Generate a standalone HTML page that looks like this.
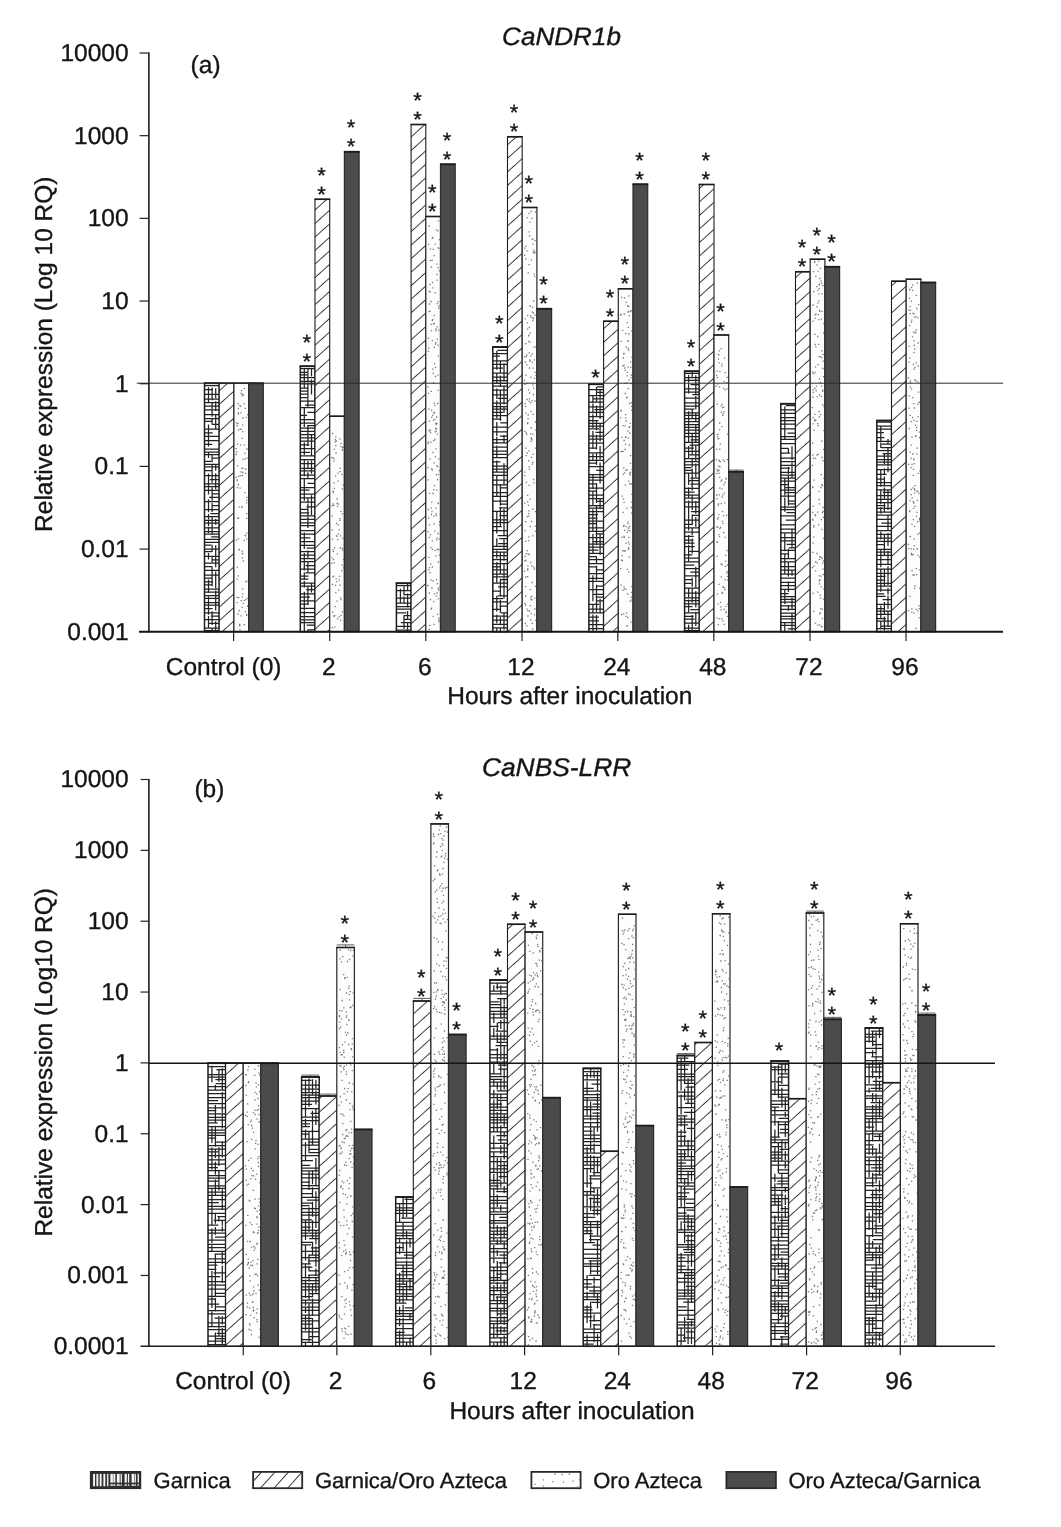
<!DOCTYPE html><html><head><meta charset="utf-8"><title>chart</title>
<style>html,body{margin:0;padding:0;background:#fff}svg{display:block}svg{will-change:transform}text{font-family:"Liberation Sans",sans-serif;fill:#151515;stroke:#151515;stroke-width:0.35px;text-rendering:geometricPrecision}</style></head><body>
<svg width="1061" height="1527" viewBox="0 0 1061 1527">
<defs><pattern id="hatch" width="10.05" height="10.05" patternUnits="userSpaceOnUse" patternTransform="rotate(-42)"><rect width="10.05" height="10.05" fill="#fff"/><path d="M0 5h10.05" stroke="#363636" stroke-width="0.95"/></pattern></defs>
<rect width="1061" height="1527" fill="#fff"/>
<rect x="204.50" y="383.25" width="14.70" height="248.45" fill="#fff"/>
<path d="M204.5 385.7h14.7M204.5 389.5h8.5M204.5 394.3h14.7M204.5 399.1h14.7M204.5 402.6h14.7M204.5 406.1h14.7M204.5 409.9h14.7M204.5 414.7h14.7M204.5 418.5h14.7M204.5 421.4h7.4M212.4 424.3h6.8M204.5 429.1h14.7M204.5 432.9h8.2M204.5 436.4h14.7M204.5 440.6h14.7M204.5 444.4h7.9M204.5 449.2h14.7M204.5 452.1h14.7M204.5 454.7h14.7M212.1 458.2h7.1M204.5 461.4h6.7M204.5 464.3h14.7M204.5 466.9h14.7M204.5 470.7h7.3M204.5 475.5h14.7M209.8 479.7h9.4M204.5 483.9h14.7M204.5 486.5h14.7M204.5 490.3h14.7M212.6 493.8h6.6M209.0 497.3h10.2M204.5 501.5h14.7M212.5 505.7h6.7M204.5 509.5h14.7M210.4 513.7h8.8M204.5 516.6h14.7M204.5 520.4h14.7M204.5 523.0h14.7M204.5 527.8h14.7M204.5 531.6h14.7M204.5 534.2h14.7M211.2 536.8h8.0M204.5 539.4h14.7M204.5 542.3h14.7M204.5 545.2h6.7M204.5 549.0h14.7M204.5 551.6h7.1M204.5 556.4h14.7M212.1 559.9h7.1M204.5 563.1h14.7M204.5 566.6h7.8M204.5 570.4h14.7M204.5 575.2h14.7M204.5 578.1h7.2M204.5 581.9h8.7M204.5 584.8h8.0M204.5 589.0h14.7M204.5 592.2h14.7M204.5 595.7h14.7M204.5 598.3h14.7M204.5 602.5h14.7M204.5 605.1h14.7M204.5 608.6h8.1M204.5 612.8h14.7M210.8 616.0h8.4M204.5 619.5h14.7M209.0 623.3h10.2M204.5 628.1h14.7M204.5 630.7h14.7M208.5 387.2V402.6M208.5 424.6V436.6M208.5 436.8V446.6M208.5 451.5V458.1M208.5 473.5V494.6M208.5 499.3V512.3M208.5 513.9V519.5M208.5 519.8V526.0M208.5 526.7V532.9M208.5 553.1V559.5M208.5 579.6V593.1M208.5 596.4V607.9M208.5 608.3V614.8M208.5 616.1V628.2M212.1 387.4V400.2M212.1 402.9V416.7M212.1 418.3V424.8M212.1 454.9V462.3M212.1 464.9V482.7M212.1 487.4V500.8M212.1 502.9V512.1M212.1 516.1V534.0M212.1 544.8V552.1M212.1 556.6V562.3M212.1 567.2V586.2M212.1 611.2V625.0M212.1 628.6V631.7M215.7 388.2V398.0M215.7 401.3V411.1M215.7 414.4V429.0M215.7 463.7V470.7M215.7 473.3V489.2M215.7 519.1V524.7M215.7 545.3V567.2M215.7 571.5V588.3M215.7 590.4V610.6M215.7 621.2V631.7" stroke="#222" stroke-width="1.25" fill="none"/>
<rect x="204.50" y="383.25" width="14.70" height="248.45" fill="none" stroke="#1c1c1c" stroke-width="1.5"/>
<path d="M203.90 383.25h15.90" stroke="#1c1c1c" stroke-width="1.8"/>
<rect x="219.20" y="383.25" width="14.70" height="248.45" fill="url(#hatch)" stroke="#1c1c1c" stroke-width="1.1"/>
<path d="M218.70 383.25h15.70" stroke="#1c1c1c" stroke-width="1.6"/>
<rect x="233.90" y="383.25" width="14.70" height="248.45" fill="#fdfdfd" stroke="#262626" stroke-width="1.2"/>
<path d="M245.0 469.0h1.3M239.2 625.9h1.3M236.6 597.3h1.3M244.7 611.6h1.3M236.8 444.2h1.3M240.0 406.3h1.3M239.0 624.5h1.3M246.3 449.0h1.3M243.8 388.6h1.3M241.3 393.9h1.3M239.4 488.2h1.3M238.6 610.5h1.3M238.0 597.7h1.3M240.4 393.4h1.3M241.6 553.3h1.3M246.1 500.2h1.3M247.1 605.8h1.3M241.5 551.1h1.3M240.5 600.7h1.3M242.2 553.9h1.3M244.3 492.6h1.3M241.9 588.8h1.3M242.0 425.1h1.3M241.4 607.4h1.3M238.4 549.5h1.3M246.6 598.3h1.3M242.5 459.5h1.3M237.1 518.4h1.3M238.6 506.9h1.3M240.2 412.8h1.3M235.5 477.3h1.3M241.7 395.5h1.3M246.1 518.3h1.3M247.0 414.7h1.3M236.5 425.7h1.3M246.3 497.4h1.3M246.2 581.2h1.3M240.1 445.2h1.3M241.2 468.1h1.3M245.9 614.4h1.3M246.2 513.6h1.3M236.7 487.7h1.3M235.7 448.6h1.3M243.6 624.6h1.3M235.8 422.9h1.3M235.5 454.5h1.3M243.9 444.8h1.3M241.2 507.4h1.3M242.2 593.9h1.3M242.7 560.9h1.3M243.6 600.4h1.3M235.7 540.1h1.3M245.1 535.9h1.3M241.7 596.8h1.3M241.6 438.3h1.3M237.9 518.0h1.3M242.3 418.2h1.3M246.1 538.9h1.3M239.5 429.2h1.3M242.5 603.4h1.3M237.7 575.8h1.3M237.7 408.5h1.3M245.8 417.3h1.3M236.4 480.0h1.3M240.5 615.8h1.3M241.8 557.8h1.3M237.7 538.9h1.3M244.7 408.3h1.3M242.1 472.5h1.3M245.0 473.4h1.3M243.6 540.5h1.3M239.4 629.9h1.3M245.1 581.8h1.3M241.0 390.7h1.3M244.3 535.3h1.3M246.0 502.9h1.3M237.6 413.0h1.3M237.4 423.5h1.3M238.7 549.9h1.3M242.2 417.8h1.3M243.4 403.8h1.3M236.5 480.7h1.3M240.4 471.8h1.3M237.9 476.3h1.3M242.8 394.8h1.3M237.7 484.9h1.3M239.6 475.6h1.3M246.2 533.2h1.3M236.5 579.2h1.3M239.2 405.6h1.3M245.3 599.7h1.3M246.0 615.4h1.3M242.1 431.6h1.3M242.2 468.4h1.3M244.3 453.4h1.3M236.8 567.1h1.3M237.3 614.0h1.3M237.0 465.7h1.3M241.7 475.5h1.3M240.5 429.3h1.3M237.8 430.1h1.3M244.7 458.8h1.3M236.6 602.7h1.3M247.0 606.3h1.3M236.0 451.8h1.3M246.6 458.1h1.3M237.9 484.4h1.3M237.5 403.6h1.3M241.4 506.9h1.3M237.9 414.1h1.3" stroke="#7a7a7a" stroke-width="1.3" fill="none"/>
<path d="M233.40 383.25h15.70" stroke="#1c1c1c" stroke-width="1.5"/>
<rect x="248.60" y="383.25" width="14.70" height="248.45" fill="#4b4b4b" stroke="#2b2b2b" stroke-width="1.2"/>
<path d="M248.10 383.25h15.70" stroke="#1c1c1c" stroke-width="1.8"/>
<rect x="300.30" y="366.25" width="14.70" height="265.45" fill="#fff"/>
<path d="M300.3 368.5h14.7M300.3 372.3h8.1M300.3 374.9h6.8M300.3 377.5h14.7M300.3 381.3h14.7M300.3 383.9h14.7M300.3 388.1h7.8M300.3 391.0h7.4M300.3 394.2h7.5M300.3 397.7h6.8M300.3 401.2h14.7M305.0 405.0h10.0M300.3 407.6h14.7M307.5 412.4h7.5M300.3 415.3h6.8M300.3 419.5h14.7M300.3 423.0h14.7M307.1 425.6h7.9M300.3 428.2h14.7M300.3 431.4h14.7M300.3 434.6h14.7M300.3 437.8h14.7M300.3 441.0h14.7M300.3 444.8h9.1M300.3 448.6h14.7M300.3 452.4h9.6M300.3 455.9h14.7M300.3 459.7h14.7M300.3 463.5h14.7M300.3 468.3h14.7M300.3 470.9h14.7M300.3 475.1h14.7M300.3 478.6h14.7M307.4 483.4h7.6M300.3 487.6h14.7M300.3 490.2h9.2M300.3 494.0h14.7M300.3 497.8h14.7M300.3 502.0h14.7M306.5 506.8h8.5M300.3 509.4h7.3M300.3 512.9h8.9M300.3 515.8h14.7M300.3 519.3h14.7M300.3 522.8h14.7M300.3 525.7h14.7M300.3 530.5h14.7M300.3 534.0h14.7M300.3 537.8h10.0M300.3 541.6h14.7M300.3 545.4h14.7M306.6 548.0h8.4M300.3 551.5h14.7M300.3 555.0h14.7M300.3 558.5h14.7M300.3 561.7h14.7M305.4 565.5h9.6M300.3 569.0h14.7M305.3 572.8h9.7M300.3 576.0h8.2M300.3 579.2h8.0M300.3 583.0h14.7M300.3 586.2h14.7M306.2 589.7h8.8M300.3 593.9h14.7M300.3 597.1h9.7M300.3 600.9h14.7M300.3 604.1h8.7M300.3 608.3h14.7M300.3 612.5h14.7M300.3 616.7h14.7M300.3 619.9h14.7M300.3 622.5h14.7M306.7 625.1h8.3M308.4 629.9h6.6M304.3 368.1V388.6M304.3 407.1V427.1M304.3 442.6V455.1M304.3 459.6V476.3M304.3 478.9V500.8M304.3 532.5V549.0M304.3 553.0V570.5M304.3 572.5V580.1M304.3 581.0V587.5M304.3 591.8V610.6M304.3 610.9V618.6M304.3 618.7V631.7M307.9 368.1V382.4M307.9 383.7V390.5M307.9 390.6V406.8M307.9 425.5V445.9M307.9 460.8V468.1M307.9 472.2V478.4M307.9 498.2V503.3M307.9 503.7V516.6M307.9 516.8V527.9M307.9 550.4V558.2M307.9 561.6V572.0M307.9 586.7V604.1M307.9 629.3V631.7M311.5 368.1V376.5M311.5 379.4V394.6M311.5 435.3V456.3M311.5 460.6V473.8M311.5 495.3V515.0M311.5 583.2V592.4M311.5 630.7V631.7" stroke="#222" stroke-width="1.25" fill="none"/>
<rect x="300.30" y="366.25" width="14.70" height="265.45" fill="none" stroke="#1c1c1c" stroke-width="1.5"/>
<path d="M299.70 366.25h15.90" stroke="#1c1c1c" stroke-width="1.8"/>
<rect x="315.00" y="199.25" width="14.70" height="432.45" fill="url(#hatch)" stroke="#1c1c1c" stroke-width="1.1"/>
<path d="M314.50 199.25h15.70" stroke="#1c1c1c" stroke-width="1.6"/>
<rect x="329.70" y="416.25" width="14.70" height="215.45" fill="#fdfdfd" stroke="#262626" stroke-width="1.2"/>
<path d="M331.8 539.2h1.3M333.3 461.2h1.3M341.9 449.4h1.3M332.7 492.5h1.3M338.4 529.9h1.3M341.6 565.1h1.3M332.2 576.8h1.3M337.6 525.2h1.3M331.4 457.6h1.3M333.5 562.7h1.3M340.3 511.3h1.3M331.6 505.5h1.3M337.0 618.9h1.3M342.5 484.9h1.3M335.9 536.0h1.3M342.9 559.5h1.3M332.0 433.5h1.3M332.8 559.6h1.3M339.1 576.4h1.3M340.4 443.6h1.3M336.4 601.2h1.3M339.5 518.7h1.3M334.6 441.8h1.3M340.2 599.6h1.3M341.1 570.6h1.3M341.7 450.1h1.3M338.5 616.9h1.3M340.0 620.4h1.3M340.0 535.8h1.3M332.2 457.8h1.3M335.6 441.0h1.3M334.8 475.9h1.3M336.7 553.8h1.3M336.4 499.0h1.3M332.4 549.8h1.3M332.7 551.7h1.3M333.3 458.8h1.3M331.6 516.1h1.3M339.4 439.1h1.3M331.6 627.5h1.3M336.3 581.6h1.3M335.2 592.7h1.3M342.0 447.3h1.3M333.6 449.2h1.3M339.3 520.3h1.3M342.0 550.1h1.3M339.7 548.0h1.3M334.9 585.3h1.3M334.1 627.1h1.3M337.4 473.1h1.3M333.4 482.9h1.3M336.4 536.1h1.3M333.6 488.4h1.3M334.6 439.6h1.3M339.5 471.7h1.3M337.5 481.2h1.3M333.9 547.8h1.3M337.2 539.7h1.3M333.5 616.1h1.3M342.9 567.9h1.3M342.2 538.3h1.3M331.5 557.8h1.3M340.3 446.7h1.3M336.8 506.4h1.3M335.1 437.2h1.3M341.4 474.3h1.3M341.5 513.8h1.3M339.7 468.4h1.3M337.9 533.8h1.3M331.9 612.2h1.3M333.2 576.2h1.3M341.7 488.9h1.3M332.9 616.2h1.3M331.2 563.3h1.3M335.5 578.9h1.3M335.4 453.0h1.3M338.2 590.1h1.3M336.5 503.5h1.3M340.4 615.3h1.3M342.9 447.1h1.3M340.0 597.8h1.3M341.8 548.5h1.3M338.7 579.9h1.3M333.1 505.3h1.3M331.6 529.9h1.3M332.6 503.9h1.3M335.1 445.7h1.3M334.1 615.7h1.3M331.8 584.3h1.3M339.6 585.1h1.3M335.9 523.5h1.3M332.4 491.1h1.3M341.7 611.7h1.3M337.8 504.2h1.3M334.5 606.7h1.3" stroke="#7a7a7a" stroke-width="1.3" fill="none"/>
<path d="M329.20 416.25h15.70" stroke="#1c1c1c" stroke-width="1.5"/>
<rect x="344.40" y="151.75" width="14.70" height="479.95" fill="#4b4b4b" stroke="#2b2b2b" stroke-width="1.2"/>
<path d="M343.90 151.75h15.70" stroke="#1c1c1c" stroke-width="1.8"/>
<rect x="396.40" y="583.25" width="14.70" height="48.45" fill="#fff"/>
<path d="M396.4 585.7h14.7M396.4 590.5h14.7M403.4 594.7h7.7M396.4 598.2h14.7M396.4 603.0h14.7M396.4 606.5h14.7M396.4 609.1h14.7M396.4 612.9h9.9M403.6 615.5h7.5M403.6 619.3h7.5M400.9 622.5h10.2M396.4 626.3h14.7M396.4 630.1h14.7M400.4 588.7V603.0M400.4 631.3V631.7M404.0 586.6V594.4M404.0 596.5V603.6M404.0 616.3V629.0M407.6 583.4V591.3M407.6 593.6V607.6M407.6 611.0V620.0M407.6 622.2V631.7" stroke="#222" stroke-width="1.25" fill="none"/>
<rect x="396.40" y="583.25" width="14.70" height="48.45" fill="none" stroke="#1c1c1c" stroke-width="1.5"/>
<path d="M395.80 583.25h15.90" stroke="#1c1c1c" stroke-width="1.8"/>
<rect x="411.10" y="124.50" width="14.70" height="507.20" fill="url(#hatch)" stroke="#1c1c1c" stroke-width="1.1"/>
<path d="M410.60 124.50h15.70" stroke="#1c1c1c" stroke-width="1.6"/>
<rect x="425.80" y="216.50" width="14.70" height="415.20" fill="#fdfdfd" stroke="#262626" stroke-width="1.2"/>
<path d="M436.4 538.1h1.3M437.6 301.6h1.3M437.4 503.5h1.3M428.0 348.2h1.3M437.4 588.7h1.3M427.5 479.9h1.3M435.5 448.8h1.3M433.5 315.4h1.3M438.4 620.4h1.3M434.9 344.2h1.3M436.9 614.3h1.3M430.5 391.3h1.3M437.6 356.1h1.3M438.5 539.1h1.3M432.2 287.8h1.3M437.4 267.7h1.3M435.4 328.9h1.3M435.7 424.7h1.3M430.8 330.7h1.3M436.7 434.2h1.3M428.7 430.7h1.3M438.7 587.1h1.3M429.4 311.1h1.3M428.9 493.3h1.3M432.7 249.4h1.3M438.0 248.4h1.3M437.9 220.9h1.3M434.2 439.5h1.3M432.3 452.4h1.3M429.2 625.4h1.3M429.5 291.9h1.3M435.9 229.9h1.3M436.5 280.1h1.3M437.8 474.4h1.3M438.0 459.1h1.3M427.3 585.5h1.3M428.0 244.4h1.3M436.4 593.0h1.3M431.1 417.3h1.3M427.7 338.1h1.3M437.0 479.6h1.3M438.8 524.8h1.3M433.5 462.8h1.3M436.3 264.2h1.3M432.4 493.5h1.3M433.7 323.6h1.3M435.7 515.4h1.3M430.3 442.3h1.3M437.3 466.7h1.3M430.4 301.5h1.3M438.7 239.6h1.3M432.5 581.0h1.3M431.1 468.7h1.3M434.4 550.3h1.3M433.2 516.1h1.3M437.3 230.8h1.3M428.6 291.5h1.3M434.8 456.9h1.3M435.7 474.9h1.3M427.9 393.3h1.3M435.4 555.9h1.3M435.9 539.8h1.3M436.3 423.4h1.3M434.9 428.5h1.3M431.7 320.3h1.3M433.1 489.6h1.3M434.3 405.4h1.3M431.0 410.4h1.3M435.5 508.1h1.3M438.5 270.9h1.3M436.1 465.6h1.3M428.9 524.9h1.3M433.4 624.3h1.3M427.3 386.9h1.3M433.4 255.7h1.3M433.8 412.5h1.3M438.2 618.5h1.3M435.3 513.6h1.3M438.7 470.5h1.3M430.8 267.0h1.3M437.3 390.4h1.3M428.3 311.7h1.3M430.9 608.1h1.3M438.1 308.0h1.3M429.2 459.2h1.3M438.9 522.0h1.3M433.9 593.9h1.3M437.6 598.8h1.3M429.4 572.5h1.3M438.2 305.9h1.3M431.7 238.3h1.3M432.2 319.6h1.3M436.6 549.5h1.3M432.9 383.0h1.3M434.2 531.1h1.3M432.8 420.1h1.3M434.6 292.9h1.3M433.0 440.7h1.3M432.2 237.4h1.3M430.5 609.1h1.3M434.6 431.9h1.3M436.0 429.1h1.3M433.9 485.7h1.3M429.8 260.6h1.3M428.0 518.1h1.3M436.4 274.5h1.3M430.1 564.0h1.3M428.7 629.4h1.3M437.1 403.5h1.3M437.3 375.2h1.3M430.3 580.2h1.3M435.1 342.6h1.3M434.4 419.3h1.3M429.5 429.8h1.3M428.8 304.0h1.3M432.1 415.3h1.3M435.4 431.1h1.3M433.7 347.4h1.3M432.6 373.4h1.3M437.6 562.0h1.3M433.6 403.2h1.3M428.9 431.0h1.3M431.5 260.3h1.3M431.6 470.0h1.3M428.9 567.6h1.3M436.0 417.0h1.3M427.4 531.9h1.3M436.0 490.2h1.3M428.1 569.6h1.3M433.8 363.7h1.3M428.7 537.3h1.3M431.7 540.9h1.3M430.3 547.6h1.3M428.7 421.2h1.3M433.0 601.6h1.3M430.6 507.9h1.3M429.9 599.5h1.3M429.7 534.7h1.3M431.4 511.6h1.3M433.4 524.2h1.3M437.9 549.5h1.3M432.9 323.9h1.3M437.3 345.2h1.3M438.0 590.0h1.3M428.7 593.0h1.3M438.0 330.1h1.3M431.7 567.0h1.3M430.8 514.5h1.3M437.7 247.8h1.3M427.7 351.4h1.3M431.7 340.6h1.3M436.8 583.6h1.3M434.8 376.5h1.3M431.3 588.0h1.3M427.7 509.5h1.3M429.8 249.1h1.3M427.9 441.8h1.3M434.5 244.2h1.3M428.1 409.2h1.3M432.6 616.3h1.3M431.8 549.3h1.3M435.3 330.5h1.3M433.1 413.0h1.3M427.5 467.6h1.3M430.5 324.4h1.3M429.9 432.6h1.3M438.1 621.9h1.3M427.3 443.5h1.3M437.2 533.5h1.3M428.2 557.4h1.3M437.6 502.9h1.3M436.6 326.8h1.3M428.5 226.0h1.3M436.7 303.7h1.3M431.9 282.5h1.3M429.5 284.4h1.3M431.2 502.1h1.3M436.7 339.1h1.3M432.2 369.2h1.3M435.1 423.4h1.3M434.9 367.3h1.3M435.6 596.2h1.3M435.9 579.7h1.3M438.9 555.1h1.3" stroke="#7a7a7a" stroke-width="1.3" fill="none"/>
<path d="M425.30 216.50h15.70" stroke="#1c1c1c" stroke-width="1.5"/>
<rect x="440.50" y="164.25" width="14.70" height="467.45" fill="#4b4b4b" stroke="#2b2b2b" stroke-width="1.2"/>
<path d="M440.00 164.25h15.70" stroke="#1c1c1c" stroke-width="1.8"/>
<rect x="492.80" y="347.00" width="14.70" height="284.70" fill="#fff"/>
<path d="M497.3 350.3h10.2M492.8 353.5h14.7M492.8 356.1h7.1M492.8 360.9h14.7M492.8 364.4h14.7M492.8 368.2h10.3M492.8 373.0h14.7M492.8 377.2h14.7M492.8 380.7h14.7M492.8 383.3h14.7M492.8 386.2h14.7M492.8 390.0h14.7M492.8 394.8h14.7M497.8 398.3h9.7M492.8 403.1h14.7M492.8 406.6h14.7M492.8 409.2h14.7M492.8 412.4h10.2M492.8 415.6h14.7M492.8 419.1h8.6M500.3 422.9h7.2M492.8 427.1h14.7M492.8 431.9h14.7M500.0 436.1h7.5M492.8 439.6h14.7M492.8 442.8h14.7M492.8 447.0h14.7M492.8 451.2h14.7M492.8 454.4h14.7M492.8 457.6h14.7M492.8 461.8h7.6M492.8 466.0h14.7M492.8 469.2h14.7M492.8 472.1h14.7M492.8 475.3h14.7M492.8 480.1h14.7M492.8 484.9h14.7M499.7 487.8h7.8M492.8 492.6h14.7M492.8 496.4h14.7M492.8 501.2h14.7M500.1 504.1h7.4M499.1 507.9h8.4M492.8 511.4h14.7M499.4 515.6h8.1M492.8 519.8h14.7M492.8 522.7h14.7M492.8 526.5h8.9M492.8 530.7h14.7M497.7 535.5h9.8M499.3 538.7h8.2M498.2 543.5h9.3M492.8 546.4h14.7M492.8 549.3h14.7M492.8 552.2h14.7M492.8 555.7h14.7M492.8 559.5h14.7M492.8 563.7h14.7M492.8 566.9h7.8M492.8 569.8h14.7M492.8 574.0h14.7M492.8 576.9h14.7M500.8 579.5h6.7M492.8 583.0h14.7M498.0 586.8h9.5M492.8 591.0h8.1M497.8 595.8h9.7M492.8 598.7h10.2M492.8 601.9h14.7M499.4 606.1h8.1M492.8 609.3h7.5M500.8 612.8h6.7M492.8 616.0h14.7M492.8 620.2h14.7M492.8 624.4h14.7M492.8 627.9h14.7M496.8 350.9V369.7M496.8 372.9V383.9M496.8 388.5V398.9M496.8 400.6V418.2M496.8 421.9V436.2M496.8 437.1V443.9M496.8 445.6V458.0M496.8 460.5V472.3M496.8 475.0V496.2M496.8 511.6V533.4M496.8 538.2V546.9M496.8 550.5V558.5M496.8 561.9V583.0M496.8 595.7V611.5M496.8 614.7V623.3M496.8 627.8V631.7M500.4 360.8V373.5M500.4 375.6V387.1M500.4 390.1V404.9M500.4 405.0V420.7M500.4 483.9V505.8M500.4 506.9V526.2M500.4 552.6V574.5M500.4 578.8V595.9M500.4 599.9V612.7M500.4 617.0V625.3M500.4 628.5V631.7M504.0 363.3V381.4M504.0 386.0V404.5M504.0 406.3V413.0M504.0 435.1V443.1M504.0 463.2V485.0M504.0 509.1V525.4M504.0 525.5V536.3M504.0 539.4V549.2M504.0 552.6V560.7M504.0 564.2V577.1M504.0 577.7V598.7M504.0 612.3V629.8M504.0 631.3V631.7" stroke="#222" stroke-width="1.25" fill="none"/>
<rect x="492.80" y="347.00" width="14.70" height="284.70" fill="none" stroke="#1c1c1c" stroke-width="1.5"/>
<path d="M492.20 347.00h15.90" stroke="#1c1c1c" stroke-width="1.8"/>
<rect x="507.50" y="136.75" width="14.70" height="494.95" fill="url(#hatch)" stroke="#1c1c1c" stroke-width="1.1"/>
<path d="M507.00 136.75h15.70" stroke="#1c1c1c" stroke-width="1.6"/>
<rect x="522.20" y="207.50" width="14.70" height="424.20" fill="#fdfdfd" stroke="#262626" stroke-width="1.2"/>
<path d="M528.7 554.4h1.3M528.5 401.4h1.3M529.6 605.6h1.3M527.8 505.4h1.3M526.5 453.0h1.3M527.0 576.6h1.3M527.1 568.9h1.3M531.6 400.6h1.3M534.6 372.3h1.3M532.4 462.3h1.3M528.9 236.0h1.3M528.6 327.5h1.3M528.9 611.0h1.3M527.1 501.7h1.3M531.6 312.1h1.3M528.5 264.7h1.3M534.2 315.0h1.3M528.6 352.9h1.3M533.3 567.1h1.3M530.6 438.9h1.3M524.9 586.6h1.3M524.7 362.1h1.3M528.1 513.6h1.3M531.5 353.8h1.3M534.2 609.0h1.3M524.0 475.6h1.3M529.2 361.4h1.3M529.1 342.1h1.3M531.5 464.1h1.3M535.1 620.3h1.3M535.3 375.4h1.3M533.4 482.8h1.3M531.9 629.2h1.3M524.5 403.7h1.3M528.4 485.3h1.3M526.3 625.9h1.3M526.2 364.8h1.3M525.4 375.2h1.3M532.4 244.2h1.3M525.7 482.3h1.3M531.0 521.5h1.3M526.7 550.7h1.3M532.3 535.9h1.3M525.1 406.4h1.3M523.9 571.1h1.3M534.8 586.3h1.3M524.0 356.9h1.3M530.0 433.8h1.3M525.0 541.4h1.3M527.2 422.7h1.3M525.2 448.2h1.3M525.2 246.2h1.3M529.7 332.8h1.3M532.8 312.9h1.3M528.5 231.9h1.3M526.2 399.3h1.3M530.2 402.5h1.3M533.7 253.0h1.3M533.6 274.2h1.3M535.1 430.1h1.3M528.5 466.9h1.3M533.8 614.9h1.3M528.5 213.5h1.3M525.5 553.7h1.3M532.3 509.2h1.3M525.5 432.7h1.3M524.0 255.4h1.3M527.2 616.0h1.3M531.2 566.0h1.3M524.2 384.3h1.3M524.6 318.9h1.3M525.0 596.0h1.3M527.5 415.0h1.3M531.4 582.5h1.3M534.8 448.2h1.3M529.6 589.7h1.3M528.3 335.1h1.3M532.4 317.8h1.3M528.0 389.8h1.3M529.3 360.0h1.3M528.7 398.9h1.3M524.3 561.0h1.3M524.4 431.3h1.3M530.1 377.4h1.3M526.3 250.8h1.3M528.1 341.4h1.3M529.4 306.0h1.3M532.5 414.3h1.3M523.8 380.3h1.3M535.0 212.0h1.3M530.6 613.7h1.3M528.0 460.9h1.3M528.0 335.9h1.3M530.8 457.3h1.3M527.4 418.6h1.3M529.7 526.5h1.3M524.3 248.1h1.3M526.6 322.8h1.3M533.0 388.2h1.3M533.8 378.4h1.3M527.0 495.4h1.3M524.7 623.5h1.3M533.4 347.2h1.3M527.4 554.1h1.3M532.9 479.5h1.3M524.4 530.6h1.3M524.3 472.1h1.3M530.2 599.6h1.3M531.2 218.4h1.3M534.6 526.1h1.3M530.5 211.3h1.3M532.3 385.2h1.3M531.7 623.3h1.3M534.4 240.6h1.3M532.8 394.5h1.3M532.5 368.1h1.3M528.9 393.0h1.3M525.1 343.7h1.3M532.3 239.1h1.3M525.1 560.3h1.3M531.5 439.9h1.3M525.0 258.9h1.3M527.3 610.8h1.3M530.3 597.5h1.3M526.2 383.7h1.3M530.0 562.5h1.3M525.1 577.0h1.3M529.2 222.2h1.3M528.8 368.0h1.3M531.6 599.9h1.3M529.5 499.4h1.3M528.2 536.9h1.3M524.9 521.7h1.3M525.6 455.7h1.3M526.1 354.8h1.3M525.6 356.3h1.3M530.6 428.0h1.3M528.2 450.9h1.3M533.6 359.9h1.3M530.5 411.4h1.3M535.2 347.2h1.3M531.9 307.4h1.3M526.8 516.6h1.3M530.4 317.3h1.3M524.5 556.4h1.3M528.1 510.8h1.3M528.8 469.1h1.3M530.2 620.0h1.3M534.3 401.0h1.3M529.4 306.4h1.3M532.5 252.1h1.3M527.3 565.9h1.3M524.1 503.2h1.3M530.3 441.3h1.3M527.6 272.8h1.3M534.8 531.1h1.3M533.1 250.1h1.3M532.9 301.0h1.3M526.0 434.3h1.3M530.8 259.9h1.3M532.6 454.3h1.3M534.2 598.2h1.3M531.8 362.3h1.3M534.8 511.7h1.3M527.1 570.2h1.3M532.2 320.5h1.3M526.6 217.6h1.3M530.0 315.8h1.3M527.1 315.5h1.3M525.2 413.2h1.3M526.9 329.1h1.3M526.9 423.5h1.3M533.9 276.4h1.3M533.8 569.0h1.3M530.8 438.0h1.3M532.3 434.2h1.3M531.4 596.2h1.3M532.8 318.5h1.3M524.3 603.5h1.3M527.9 540.6h1.3M526.4 399.7h1.3M528.0 516.2h1.3M534.7 422.0h1.3M530.3 355.9h1.3M526.4 609.1h1.3M525.0 605.1h1.3M531.4 239.2h1.3M534.3 252.0h1.3" stroke="#7a7a7a" stroke-width="1.3" fill="none"/>
<path d="M521.70 207.50h15.70" stroke="#1c1c1c" stroke-width="1.5"/>
<rect x="536.90" y="308.75" width="14.70" height="322.95" fill="#4b4b4b" stroke="#2b2b2b" stroke-width="1.2"/>
<path d="M536.40 308.75h15.70" stroke="#1c1c1c" stroke-width="1.8"/>
<rect x="588.90" y="384.25" width="14.70" height="247.45" fill="#fff"/>
<path d="M596.7 386.9h6.9M588.9 389.5h14.7M596.9 392.4h6.7M588.9 395.6h14.7M593.5 398.8h10.1M588.9 402.0h14.7M588.9 406.8h14.7M594.5 409.7h9.1M588.9 412.3h14.7M588.9 416.5h14.7M588.9 420.7h9.6M588.9 423.3h14.7M588.9 426.2h14.7M588.9 428.8h10.2M595.5 432.3h8.1M588.9 436.1h14.7M588.9 439.0h14.7M588.9 443.2h14.7M588.9 448.0h7.6M588.9 452.8h14.7M588.9 456.6h14.7M588.9 460.4h14.7M588.9 463.0h8.3M588.9 466.5h14.7M596.3 470.3h7.3M588.9 474.5h14.7M588.9 477.4h14.7M588.9 480.0h14.7M588.9 483.8h7.8M588.9 488.0h14.7M588.9 491.2h7.6M588.9 495.0h14.7M588.9 498.5h14.7M596.3 501.4h7.3M588.9 505.6h14.7M588.9 508.2h14.7M588.9 511.7h14.7M588.9 514.6h9.1M588.9 518.1h8.6M588.9 521.0h14.7M588.9 523.6h7.5M588.9 527.8h14.7M588.9 531.3h14.7M595.6 533.9h8.0M588.9 537.7h14.7M593.3 541.5h10.3M588.9 544.1h14.7M588.9 547.0h14.7M588.9 550.2h9.5M588.9 553.4h14.7M588.9 556.6h8.0M588.9 559.5h14.7M588.9 563.7h14.7M588.9 566.9h8.4M596.9 569.8h6.7M588.9 573.6h14.7M588.9 578.4h14.7M588.9 581.3h14.7M596.5 586.1h7.1M588.9 589.6h14.7M593.5 594.4h10.1M595.7 597.0h7.9M596.5 600.8h7.1M588.9 604.3h10.1M588.9 609.1h14.7M588.9 612.9h14.7M588.9 617.1h9.9M588.9 620.9h10.1M588.9 624.7h14.7M588.9 628.5h14.7M592.9 395.0V403.1M592.9 403.4V413.6M592.9 414.2V428.1M592.9 431.0V448.9M592.9 453.7V460.1M592.9 475.3V488.9M592.9 490.5V505.2M592.9 509.2V530.7M592.9 533.7V553.1M592.9 575.2V593.2M592.9 593.5V601.2M592.9 604.9V613.5M592.9 614.6V631.7M596.5 387.0V395.1M596.5 396.7V402.4M596.5 405.5V416.7M596.5 419.9V430.3M596.5 434.7V449.6M596.5 452.3V465.1M596.5 482.9V502.9M596.5 505.4V527.2M596.5 528.0V545.3M596.5 557.3V564.0M596.5 565.7V580.2M596.5 584.8V598.6M596.5 598.6V612.0M596.5 614.9V630.6M596.5 631.1V631.7M600.1 390.1V399.8M600.1 400.3V418.9M600.1 423.0V441.6M600.1 446.1V459.6M600.1 462.4V483.5M600.1 498.4V509.2M600.1 534.3V554.9M600.1 598.8V612.5" stroke="#222" stroke-width="1.25" fill="none"/>
<rect x="588.90" y="384.25" width="14.70" height="247.45" fill="none" stroke="#1c1c1c" stroke-width="1.5"/>
<path d="M588.30 384.25h15.90" stroke="#1c1c1c" stroke-width="1.8"/>
<rect x="603.60" y="321.25" width="14.70" height="310.45" fill="url(#hatch)" stroke="#1c1c1c" stroke-width="1.1"/>
<path d="M603.10 321.25h15.70" stroke="#1c1c1c" stroke-width="1.6"/>
<rect x="618.30" y="288.75" width="14.70" height="342.95" fill="#fdfdfd" stroke="#262626" stroke-width="1.2"/>
<path d="M627.3 312.2h1.3M627.6 327.4h1.3M631.3 586.5h1.3M623.4 353.5h1.3M627.9 548.0h1.3M631.3 502.0h1.3M621.3 537.3h1.3M620.5 585.2h1.3M628.8 557.2h1.3M630.0 483.7h1.3M630.8 507.5h1.3M625.6 421.0h1.3M623.9 298.0h1.3M621.7 560.7h1.3M622.5 512.4h1.3M628.9 526.3h1.3M625.8 397.7h1.3M623.0 353.9h1.3M627.4 523.6h1.3M630.8 402.6h1.3M630.6 600.1h1.3M623.2 613.9h1.3M627.0 617.5h1.3M628.9 403.5h1.3M623.1 467.9h1.3M625.5 302.3h1.3M629.9 472.3h1.3M625.3 543.4h1.3M622.7 358.0h1.3M626.6 372.3h1.3M623.6 314.0h1.3M620.4 411.0h1.3M626.0 612.8h1.3M627.3 431.1h1.3M624.6 370.3h1.3M625.3 616.3h1.3M621.2 437.4h1.3M627.8 549.4h1.3M626.3 508.2h1.3M630.8 597.1h1.3M622.7 474.2h1.3M631.5 469.6h1.3M622.0 550.7h1.3M620.5 341.4h1.3M626.3 382.9h1.3M628.2 537.3h1.3M623.5 551.0h1.3M627.4 530.2h1.3M625.1 437.3h1.3M621.0 451.7h1.3M631.0 592.3h1.3M620.5 314.4h1.3M623.0 526.3h1.3M624.9 333.7h1.3M624.8 485.1h1.3M628.5 427.3h1.3M627.4 521.9h1.3M627.0 306.0h1.3M628.1 334.0h1.3M620.4 451.3h1.3M620.0 315.0h1.3M624.4 449.5h1.3M621.0 614.5h1.3M629.8 455.7h1.3M626.7 397.5h1.3M631.3 331.0h1.3M623.4 365.4h1.3M629.9 463.2h1.3M624.6 425.8h1.3M630.2 377.8h1.3M629.1 531.0h1.3M625.0 414.6h1.3M624.9 444.3h1.3M623.5 502.3h1.3M624.6 393.5h1.3M628.8 445.0h1.3M625.3 589.3h1.3M625.1 418.1h1.3M630.3 622.2h1.3M629.0 426.7h1.3M627.7 542.1h1.3M623.3 536.4h1.3M630.9 513.2h1.3M627.6 438.2h1.3M627.4 367.1h1.3M628.8 473.5h1.3M631.3 406.4h1.3M628.1 295.9h1.3M624.7 550.8h1.3M622.8 498.8h1.3M622.4 425.7h1.3M631.4 357.1h1.3M630.5 310.6h1.3M626.6 569.4h1.3M629.6 423.3h1.3M626.7 532.3h1.3M628.7 544.1h1.3M626.6 375.8h1.3M628.1 481.1h1.3M626.2 625.8h1.3M621.4 555.6h1.3M623.6 537.3h1.3M630.9 383.5h1.3M626.4 469.8h1.3M625.6 347.0h1.3M627.1 594.0h1.3M627.6 388.5h1.3M629.2 433.0h1.3M621.5 496.2h1.3M625.2 470.4h1.3M631.4 483.8h1.3M631.0 410.1h1.3M628.7 315.9h1.3M623.3 525.5h1.3M627.9 571.9h1.3M624.2 383.3h1.3M624.0 472.9h1.3M620.1 417.6h1.3M627.5 340.8h1.3M623.4 586.9h1.3M630.7 375.1h1.3M621.9 330.3h1.3M620.8 560.2h1.3M628.4 380.1h1.3M625.5 526.6h1.3M620.1 568.6h1.3M629.9 362.1h1.3M628.0 528.0h1.3M623.7 588.9h1.3M622.4 451.4h1.3M623.5 440.5h1.3M629.3 484.0h1.3M626.9 625.8h1.3M622.4 366.0h1.3M627.1 341.3h1.3M631.1 406.3h1.3M624.9 436.8h1.3M629.5 601.4h1.3M627.7 348.5h1.3M624.0 530.4h1.3M622.3 590.3h1.3M630.0 367.2h1.3M624.1 368.0h1.3M628.2 306.3h1.3M627.9 311.5h1.3M629.6 474.9h1.3M626.6 322.6h1.3M620.3 410.3h1.3M631.3 494.3h1.3M629.9 311.5h1.3M621.0 297.4h1.3M628.0 350.2h1.3" stroke="#7a7a7a" stroke-width="1.3" fill="none"/>
<path d="M617.80 288.75h15.70" stroke="#1c1c1c" stroke-width="1.5"/>
<rect x="633.00" y="184.25" width="14.70" height="447.45" fill="#4b4b4b" stroke="#2b2b2b" stroke-width="1.2"/>
<path d="M632.50 184.25h15.70" stroke="#1c1c1c" stroke-width="1.8"/>
<rect x="684.60" y="371.25" width="14.70" height="260.45" fill="#fff"/>
<path d="M684.6 373.3h14.7M684.6 377.5h14.7M684.6 380.4h14.7M690.6 384.6h8.7M684.6 388.8h14.7M684.6 392.0h14.7M692.4 394.6h6.9M684.6 398.1h14.7M684.6 402.9h14.7M684.6 406.1h14.7M684.6 409.0h9.8M684.6 412.8h14.7M684.6 415.4h14.7M684.6 418.6h14.7M684.6 421.5h14.7M684.6 424.7h14.7M684.6 427.3h14.7M684.6 430.2h14.7M684.6 433.4h14.7M684.6 436.6h14.7M690.7 439.8h8.6M684.6 442.4h14.7M689.8 445.0h9.5M684.6 448.2h9.4M684.6 451.4h14.7M689.4 454.9h9.9M684.6 458.7h14.7M684.6 461.6h14.7M684.6 464.8h14.7M684.6 467.7h6.9M684.6 470.3h7.5M684.6 473.2h14.7M690.3 478.0h9.0M689.0 480.6h10.3M690.4 484.1h8.9M684.6 488.3h14.7M684.6 492.1h10.0M684.6 495.0h14.7M684.6 498.2h14.7M684.6 502.0h14.7M684.6 506.8h14.7M690.8 511.6h8.5M692.0 515.4h7.3M684.6 520.2h14.7M684.6 524.4h7.4M684.6 527.9h14.7M684.6 532.1h14.7M684.6 536.3h9.2M684.6 540.1h8.9M684.6 543.0h9.9M684.6 546.5h10.2M689.4 551.3h9.9M684.6 554.8h7.8M684.6 558.0h14.7M684.6 561.8h14.7M684.6 565.0h9.8M684.6 568.5h14.7M690.3 572.0h9.0M684.6 575.8h14.7M684.6 579.6h8.1M684.6 583.4h6.7M684.6 588.2h14.7M684.6 593.0h14.7M684.6 597.8h14.7M684.6 600.7h14.7M684.6 603.9h14.7M684.6 606.5h8.0M690.2 609.7h9.1M684.6 612.9h14.7M684.6 616.4h9.0M684.6 619.0h10.1M684.6 623.2h14.7M684.6 628.0h14.7M684.6 630.6h14.7M688.6 374.8V381.9M688.6 382.4V393.6M688.6 411.2V426.5M688.6 426.6V442.8M688.6 445.9V458.5M688.6 473.6V485.1M688.6 487.3V498.7M688.6 500.5V520.4M688.6 520.7V530.4M688.6 534.9V544.0M688.6 544.7V561.9M688.6 588.3V597.3M688.6 599.5V611.9M688.6 624.7V631.7M692.2 371.8V376.9M692.2 408.5V418.4M692.2 433.8V454.6M692.2 457.8V467.3M692.2 468.5V490.5M692.2 494.2V510.1M692.2 514.4V525.2M692.2 528.0V535.1M692.2 538.5V553.5M692.2 577.8V586.7M692.2 588.1V602.8M692.2 615.1V627.5M692.2 628.5V631.7M695.8 375.3V394.9M695.8 395.9V409.5M695.8 412.2V421.6M695.8 424.7V442.1M695.8 445.6V461.2M695.8 463.6V477.2M695.8 500.9V513.8M695.8 517.1V526.7M695.8 566.7V588.0M695.8 591.0V607.6M695.8 611.8V626.1M695.8 629.5V631.7" stroke="#222" stroke-width="1.25" fill="none"/>
<rect x="684.60" y="371.25" width="14.70" height="260.45" fill="none" stroke="#1c1c1c" stroke-width="1.5"/>
<path d="M684.00 371.25h15.90" stroke="#1c1c1c" stroke-width="1.8"/>
<rect x="699.30" y="184.50" width="14.70" height="447.20" fill="url(#hatch)" stroke="#1c1c1c" stroke-width="1.1"/>
<path d="M698.80 184.50h15.70" stroke="#1c1c1c" stroke-width="1.6"/>
<rect x="714.00" y="335.00" width="14.70" height="296.70" fill="#fdfdfd" stroke="#262626" stroke-width="1.2"/>
<path d="M726.4 377.3h1.3M723.4 411.7h1.3M718.5 470.3h1.3M725.3 612.9h1.3M716.2 526.9h1.3M721.1 366.1h1.3M722.4 587.0h1.3M717.4 438.8h1.3M716.6 542.3h1.3M725.6 606.3h1.3M719.9 527.3h1.3M719.8 461.7h1.3M723.0 407.2h1.3M716.1 495.0h1.3M719.3 466.9h1.3M718.8 461.1h1.3M718.0 466.1h1.3M725.5 478.1h1.3M726.1 382.6h1.3M718.6 494.8h1.3M719.7 443.8h1.3M716.6 618.1h1.3M724.0 358.2h1.3M722.6 459.9h1.3M718.8 618.7h1.3M723.5 609.5h1.3M723.5 587.6h1.3M716.4 371.1h1.3M723.7 493.2h1.3M726.8 616.4h1.3M720.7 503.6h1.3M716.6 404.1h1.3M717.2 527.3h1.3M719.1 449.2h1.3M726.2 550.5h1.3M715.5 386.1h1.3M717.2 384.2h1.3M716.8 594.1h1.3M724.1 502.9h1.3M717.3 434.3h1.3M717.6 624.6h1.3M718.8 350.8h1.3M723.7 461.3h1.3M716.4 498.9h1.3M726.9 434.1h1.3M720.2 606.8h1.3M724.4 579.8h1.3M726.2 388.9h1.3M721.3 426.6h1.3M720.4 564.0h1.3M726.7 459.6h1.3M717.3 471.0h1.3M717.6 354.3h1.3M720.4 609.8h1.3M726.9 576.3h1.3M718.3 584.4h1.3M721.5 497.0h1.3M718.8 386.8h1.3M721.5 593.4h1.3M722.5 413.6h1.3M718.3 534.6h1.3M725.7 611.7h1.3M718.1 354.9h1.3M721.5 404.4h1.3M718.3 460.2h1.3M725.4 479.2h1.3M717.8 359.1h1.3M718.1 514.6h1.3M718.4 362.9h1.3M721.4 488.9h1.3M727.0 580.2h1.3M724.8 566.3h1.3M720.6 405.9h1.3M727.0 604.1h1.3M724.6 372.7h1.3M718.4 473.3h1.3M722.1 415.3h1.3M723.6 381.7h1.3M718.9 536.7h1.3M716.0 449.4h1.3M722.2 621.2h1.3M717.5 604.1h1.3M722.4 523.4h1.3M723.7 624.4h1.3M721.7 521.4h1.3M721.7 564.8h1.3M721.2 364.2h1.3M716.3 541.9h1.3M726.5 571.6h1.3M726.4 573.2h1.3M719.1 477.4h1.3M718.0 503.8h1.3M724.6 482.3h1.3M715.6 459.7h1.3M716.5 556.4h1.3M722.0 407.6h1.3M721.0 479.8h1.3M719.2 488.1h1.3M720.6 412.2h1.3M717.1 519.2h1.3M724.4 537.4h1.3M716.9 436.9h1.3M722.9 388.3h1.3M723.2 484.5h1.3M717.6 517.7h1.3M719.0 429.6h1.3M719.0 423.0h1.3M716.4 469.7h1.3M715.9 375.5h1.3M719.2 371.6h1.3M721.6 592.4h1.3M724.9 555.3h1.3M726.0 515.1h1.3M725.1 561.2h1.3M720.7 576.8h1.3M724.2 589.5h1.3M726.8 565.0h1.3M716.8 377.7h1.3M717.5 505.1h1.3M722.9 515.6h1.3M716.7 434.7h1.3M720.4 481.1h1.3M719.9 602.3h1.3M718.0 438.7h1.3M723.1 532.5h1.3M724.4 389.9h1.3M719.3 528.7h1.3M720.5 348.7h1.3M716.2 473.3h1.3M721.9 511.7h1.3M722.1 494.9h1.3M721.2 618.8h1.3" stroke="#7a7a7a" stroke-width="1.3" fill="none"/>
<path d="M713.50 335.00h15.70" stroke="#1c1c1c" stroke-width="1.5"/>
<rect x="728.70" y="471.75" width="14.70" height="159.95" fill="#4b4b4b" stroke="#2b2b2b" stroke-width="1.2"/>
<path d="M728.20 471.75h15.70" stroke="#1c1c1c" stroke-width="1.8"/>
<rect x="780.80" y="403.75" width="14.70" height="227.95" fill="#fff"/>
<path d="M785.8 405.7h9.7M780.8 409.9h14.7M780.8 413.4h14.7M780.8 417.6h14.7M780.8 420.5h14.7M780.8 424.0h14.7M780.8 428.8h14.7M787.5 433.0h8.0M780.8 436.5h14.7M780.8 439.4h14.7M780.8 443.6h14.7M780.8 448.4h7.5M780.8 453.2h9.5M780.8 458.0h14.7M780.8 461.5h14.7M780.8 465.3h14.7M780.8 468.2h9.3M780.8 472.4h14.7M780.8 475.0h14.7M780.8 478.2h14.7M780.8 481.1h14.7M780.8 484.6h7.6M785.5 487.5h10.0M780.8 490.1h14.7M785.4 492.7h10.1M780.8 496.2h14.7M788.1 501.0h7.4M788.4 503.9h7.1M780.8 507.1h14.7M780.8 509.7h14.7M786.4 512.6h9.1M780.8 515.8h14.7M785.7 520.0h9.8M780.8 524.8h14.7M780.8 529.0h14.7M780.8 532.8h14.7M780.8 537.6h14.7M780.8 540.8h14.7M786.7 544.3h8.8M788.6 547.8h6.9M780.8 550.4h14.7M780.8 553.9h7.9M780.8 558.7h14.7M780.8 561.9h14.7M780.8 566.7h14.7M780.8 570.2h14.7M780.8 574.0h14.7M780.8 578.2h14.7M780.8 582.4h14.7M780.8 585.6h14.7M780.8 589.4h14.7M780.8 593.6h7.8M780.8 596.5h14.7M780.8 599.4h14.7M780.8 602.0h14.7M780.8 605.8h14.7M780.8 609.3h14.7M780.8 613.1h14.7M780.8 616.3h14.7M780.8 618.9h14.7M780.8 622.7h14.7M780.8 625.3h14.7M787.6 628.8h7.9M784.8 406.4V420.3M784.8 420.9V439.2M784.8 478.0V495.3M784.8 497.6V511.7M784.8 533.5V551.3M784.8 554.3V574.7M784.8 589.3V603.9M784.8 622.5V631.7M788.4 448.2V453.7M788.4 466.9V474.0M788.4 475.4V491.8M788.4 493.4V505.4M788.4 549.0V558.1M788.4 561.3V576.6M788.4 581.6V591.9M788.4 605.1V610.8M792.0 446.3V459.9M792.0 462.5V478.8M792.0 529.1V548.1M792.0 570.1V575.8M792.0 597.7V610.3M792.0 613.6V630.4" stroke="#222" stroke-width="1.25" fill="none"/>
<rect x="780.80" y="403.75" width="14.70" height="227.95" fill="none" stroke="#1c1c1c" stroke-width="1.5"/>
<path d="M780.20 403.75h15.90" stroke="#1c1c1c" stroke-width="1.8"/>
<rect x="795.50" y="271.75" width="14.70" height="359.95" fill="url(#hatch)" stroke="#1c1c1c" stroke-width="1.1"/>
<path d="M795.00 271.75h15.70" stroke="#1c1c1c" stroke-width="1.6"/>
<rect x="810.20" y="259.25" width="14.70" height="372.45" fill="#fdfdfd" stroke="#262626" stroke-width="1.2"/>
<path d="M812.5 593.3h1.3M820.2 557.3h1.3M817.1 336.5h1.3M817.0 512.2h1.3M818.1 300.9h1.3M811.7 407.7h1.3M814.6 344.5h1.3M814.3 414.3h1.3M819.8 598.1h1.3M819.6 268.4h1.3M821.9 485.7h1.3M820.3 487.5h1.3M815.8 386.1h1.3M812.5 506.1h1.3M812.3 512.4h1.3M822.4 507.5h1.3M818.8 559.3h1.3M822.9 561.0h1.3M823.3 430.6h1.3M811.9 487.7h1.3M819.2 579.6h1.3M818.9 395.0h1.3M811.8 567.6h1.3M819.0 624.8h1.3M818.6 575.8h1.3M820.7 626.8h1.3M817.1 592.2h1.3M816.3 264.9h1.3M815.5 390.5h1.3M823.3 406.6h1.3M814.9 515.9h1.3M812.8 373.6h1.3M816.3 306.7h1.3M818.7 417.0h1.3M821.1 386.2h1.3M823.1 333.0h1.3M817.9 344.3h1.3M811.9 372.2h1.3M822.2 368.5h1.3M817.4 454.3h1.3M814.8 458.3h1.3M812.5 389.8h1.3M815.0 562.0h1.3M820.7 519.7h1.3M818.7 580.9h1.3M820.4 281.2h1.3M813.2 537.1h1.3M821.5 626.3h1.3M820.8 319.1h1.3M818.3 491.4h1.3M818.8 310.4h1.3M823.0 449.3h1.3M814.8 623.2h1.3M816.2 286.6h1.3M819.5 356.7h1.3M814.3 372.5h1.3M818.8 378.9h1.3M819.5 595.2h1.3M823.3 589.2h1.3M822.5 354.3h1.3M821.3 293.9h1.3M818.5 288.7h1.3M812.9 611.3h1.3M813.2 525.7h1.3M817.9 261.2h1.3M821.0 283.2h1.3M822.1 563.2h1.3M817.5 425.6h1.3M812.0 519.4h1.3M812.2 455.1h1.3M822.5 511.3h1.3M813.1 527.1h1.3M819.9 382.4h1.3M820.7 474.6h1.3M816.5 455.0h1.3M814.9 366.8h1.3M822.1 389.9h1.3M820.7 396.3h1.3M813.9 261.3h1.3M823.0 538.4h1.3M823.2 478.4h1.3M812.4 321.1h1.3M812.3 487.0h1.3M819.0 613.8h1.3M815.2 346.9h1.3M814.3 315.1h1.3M812.0 443.2h1.3M816.6 396.7h1.3M822.8 376.7h1.3M821.4 457.5h1.3M812.9 271.7h1.3M818.8 583.8h1.3M812.3 520.1h1.3M814.4 514.6h1.3M821.4 529.4h1.3M814.6 318.4h1.3M823.0 599.1h1.3M822.5 460.7h1.3M812.3 397.0h1.3M822.3 285.5h1.3M815.2 276.4h1.3M822.0 391.4h1.3M812.7 392.3h1.3M814.1 420.9h1.3M818.9 503.8h1.3M812.8 458.2h1.3M812.4 423.9h1.3M821.2 357.7h1.3M821.3 350.9h1.3M816.3 553.5h1.3M811.7 465.4h1.3M818.0 524.8h1.3M822.8 517.3h1.3M814.3 334.3h1.3M817.3 364.7h1.3M818.2 293.9h1.3M819.8 414.7h1.3M812.3 305.3h1.3M822.6 574.5h1.3M822.0 404.7h1.3M823.2 323.6h1.3M820.2 608.7h1.3M814.1 262.3h1.3M813.2 291.6h1.3M821.1 484.7h1.3M817.3 303.1h1.3M819.2 311.3h1.3M813.3 480.1h1.3M819.2 556.6h1.3M821.4 311.4h1.3M815.3 313.9h1.3M817.4 271.2h1.3M821.9 512.6h1.3M821.2 441.2h1.3M822.4 569.2h1.3M821.4 558.5h1.3M814.2 388.3h1.3M812.4 543.1h1.3M817.2 625.2h1.3M815.1 420.0h1.3M821.8 618.7h1.3M820.6 586.8h1.3M822.5 361.1h1.3M818.9 284.2h1.3M819.6 612.7h1.3M817.6 314.6h1.3M818.4 284.9h1.3M817.1 290.3h1.3M816.6 562.9h1.3M820.4 576.1h1.3M817.1 423.7h1.3M812.3 552.3h1.3M818.4 411.5h1.3M813.4 430.2h1.3M812.4 305.1h1.3M812.6 417.7h1.3M813.3 566.4h1.3M818.8 581.0h1.3M818.2 319.7h1.3M814.9 570.9h1.3M818.5 499.5h1.3M819.1 278.5h1.3M814.0 420.2h1.3M821.6 609.3h1.3M818.6 356.6h1.3" stroke="#7a7a7a" stroke-width="1.3" fill="none"/>
<path d="M809.70 259.25h15.70" stroke="#1c1c1c" stroke-width="1.5"/>
<rect x="824.90" y="266.75" width="14.70" height="364.95" fill="#4b4b4b" stroke="#2b2b2b" stroke-width="1.2"/>
<path d="M824.40 266.75h15.70" stroke="#1c1c1c" stroke-width="1.8"/>
<rect x="876.80" y="420.60" width="14.70" height="211.10" fill="#fff"/>
<path d="M876.8 422.2h14.7M876.8 426.0h14.7M876.8 429.2h14.7M876.8 432.7h7.1M876.8 437.5h7.6M876.8 441.3h14.7M881.8 444.2h9.7M881.3 447.7h10.2M876.8 450.6h14.7M882.6 453.5h8.9M876.8 456.1h14.7M876.8 459.6h14.7M876.8 462.2h14.7M876.8 464.8h14.7M876.8 469.6h14.7M876.8 474.4h9.8M876.8 479.2h7.4M876.8 482.7h14.7M876.8 485.6h14.7M876.8 489.8h14.7M882.9 492.4h8.6M876.8 495.6h14.7M876.8 499.4h14.7M876.8 502.6h14.7M876.8 505.5h8.7M876.8 508.4h14.7M876.8 512.2h14.7M876.8 515.1h14.7M876.8 519.3h14.7M881.4 523.1h10.1M876.8 526.3h14.7M876.8 530.5h14.7M876.8 534.3h14.7M876.8 538.1h14.7M876.8 541.3h14.7M876.8 544.5h6.9M876.8 549.3h14.7M876.8 552.2h14.7M876.8 555.4h14.7M876.8 559.6h14.7M876.8 564.4h14.7M876.8 569.2h14.7M876.8 573.4h14.7M876.8 576.3h8.8M876.8 580.1h8.4M876.8 583.3h14.7M876.8 586.2h14.7M876.8 590.0h14.7M876.8 593.8h7.4M876.8 596.4h8.8M882.6 599.6h8.9M876.8 604.4h14.7M876.8 608.6h7.7M876.8 611.2h14.7M876.8 614.4h14.7M876.8 618.6h9.3M876.8 621.2h14.7M881.3 626.0h10.2M876.8 628.6h14.7M880.8 426.6V442.1M880.8 442.6V447.9M880.8 469.1V486.7M880.8 489.9V504.2M880.8 507.0V513.6M880.8 531.8V539.6M880.8 550.1V567.2M880.8 569.8V591.7M880.8 605.6V618.3M880.8 620.6V628.4M880.8 630.6V631.7M884.4 454.3V463.9M884.4 468.3V474.1M884.4 476.5V486.4M884.4 487.5V500.0M884.4 503.0V512.6M884.4 534.7V556.3M884.4 569.5V586.1M884.4 602.1V613.9M884.4 616.5V630.8M888.0 439.0V444.5M888.0 447.0V466.3M888.0 467.1V472.3M888.0 490.5V510.0M888.0 514.6V531.0M888.0 532.9V546.0M888.0 550.7V563.9M888.0 566.3V585.0M888.0 588.0V594.5M888.0 595.5V609.0M888.0 610.2V626.9M888.0 630.6V631.7" stroke="#222" stroke-width="1.25" fill="none"/>
<rect x="876.80" y="420.60" width="14.70" height="211.10" fill="none" stroke="#1c1c1c" stroke-width="1.5"/>
<path d="M876.20 420.60h15.90" stroke="#1c1c1c" stroke-width="1.8"/>
<rect x="891.50" y="281.25" width="14.70" height="350.45" fill="url(#hatch)" stroke="#1c1c1c" stroke-width="1.1"/>
<path d="M891.00 281.25h15.70" stroke="#1c1c1c" stroke-width="1.6"/>
<rect x="906.20" y="279.25" width="14.70" height="352.45" fill="#fdfdfd" stroke="#262626" stroke-width="1.2"/>
<path d="M913.0 458.8h1.3M909.8 310.4h1.3M915.3 316.7h1.3M908.1 310.2h1.3M914.0 349.2h1.3M910.8 548.8h1.3M912.9 332.2h1.3M915.6 628.4h1.3M915.0 436.3h1.3M914.0 526.3h1.3M917.5 555.3h1.3M910.6 553.3h1.3M908.9 325.6h1.3M913.6 345.2h1.3M914.3 380.0h1.3M918.7 432.2h1.3M917.2 610.9h1.3M913.0 549.3h1.3M913.5 420.3h1.3M909.2 510.9h1.3M918.5 521.1h1.3M911.4 464.3h1.3M911.9 417.5h1.3M916.7 283.1h1.3M913.3 459.6h1.3M909.4 536.6h1.3M910.7 421.7h1.3M910.6 489.5h1.3M912.7 519.7h1.3M912.7 554.6h1.3M914.1 317.4h1.3M913.5 369.2h1.3M911.2 612.1h1.3M913.3 538.9h1.3M909.5 500.8h1.3M909.1 358.2h1.3M909.2 289.4h1.3M918.3 617.8h1.3M912.0 285.2h1.3M916.3 512.4h1.3M908.2 548.6h1.3M908.5 362.2h1.3M916.8 548.9h1.3M910.4 458.4h1.3M917.1 491.7h1.3M913.8 345.4h1.3M908.5 346.4h1.3M913.8 489.0h1.3M913.1 503.0h1.3M914.3 506.3h1.3M912.5 575.0h1.3M913.9 588.4h1.3M919.2 570.0h1.3M916.7 521.9h1.3M914.2 367.3h1.3M908.9 511.7h1.3M910.6 494.7h1.3M914.1 492.9h1.3M912.7 364.4h1.3M911.3 524.3h1.3M918.1 392.2h1.3M911.4 437.2h1.3M912.7 501.7h1.3M916.5 549.0h1.3M917.2 534.3h1.3M919.1 437.5h1.3M912.9 508.4h1.3M911.4 570.6h1.3M912.6 475.4h1.3M913.8 408.0h1.3M907.8 378.0h1.3M913.3 613.2h1.3M909.3 596.3h1.3M919.1 557.2h1.3M911.0 287.5h1.3M918.0 304.7h1.3M911.2 608.8h1.3M915.6 568.6h1.3M917.5 343.0h1.3M913.6 313.8h1.3M912.1 454.0h1.3M917.3 381.8h1.3M915.5 330.0h1.3M910.7 301.2h1.3M914.5 485.6h1.3M916.0 427.4h1.3M918.7 533.2h1.3M914.3 586.0h1.3M909.8 382.8h1.3M914.2 490.2h1.3M918.9 518.1h1.3M908.2 610.7h1.3M913.2 352.6h1.3M916.6 500.3h1.3M917.7 473.4h1.3M910.7 445.2h1.3M913.2 403.7h1.3M914.5 332.9h1.3M910.7 322.1h1.3M908.0 464.3h1.3M916.3 421.4h1.3M918.3 493.4h1.3M915.4 380.8h1.3M918.2 402.3h1.3M917.6 366.0h1.3M918.8 519.4h1.3M909.8 536.4h1.3M909.5 415.4h1.3M912.1 397.7h1.3M911.9 336.9h1.3M912.4 313.4h1.3M917.0 404.4h1.3M916.0 430.3h1.3M919.1 588.1h1.3M916.0 574.6h1.3M918.4 605.9h1.3M912.5 487.9h1.3M908.5 408.1h1.3M911.5 498.2h1.3M907.8 544.3h1.3M908.6 428.5h1.3M913.4 575.0h1.3M915.1 332.4h1.3M915.5 362.9h1.3M914.9 425.2h1.3M918.9 437.7h1.3M910.9 389.1h1.3M918.9 402.5h1.3M910.5 467.7h1.3M915.5 609.4h1.3M908.6 395.9h1.3M916.2 453.8h1.3M915.8 516.4h1.3M908.8 298.3h1.3M909.8 387.0h1.3M909.8 381.0h1.3M909.0 289.9h1.3M913.8 545.6h1.3M909.6 313.7h1.3M916.2 308.5h1.3M909.3 452.2h1.3M911.2 555.1h1.3M913.6 463.6h1.3M912.1 290.4h1.3M917.3 416.9h1.3M917.4 317.8h1.3M912.8 469.3h1.3M909.5 306.7h1.3M918.6 608.7h1.3M919.4 471.0h1.3M916.3 490.9h1.3M913.3 340.8h1.3M915.2 435.6h1.3M915.6 295.4h1.3M911.1 320.2h1.3M916.6 448.2h1.3M911.0 553.8h1.3" stroke="#7a7a7a" stroke-width="1.3" fill="none"/>
<path d="M905.70 279.25h15.70" stroke="#1c1c1c" stroke-width="1.5"/>
<rect x="920.90" y="282.50" width="14.70" height="349.20" fill="#4b4b4b" stroke="#2b2b2b" stroke-width="1.2"/>
<path d="M920.40 282.50h15.70" stroke="#1c1c1c" stroke-width="1.8"/>
<path d="M728.9 470.1h14.7M736.2 470.1v1.6" stroke="#333" stroke-width="0.8" fill="none"/>
<path d="M136.8 383.2H1003" stroke="#2a2a2a" stroke-width="1.0"/>
<path d="M148.9 52.4V632.6" stroke="#1c1c1c" stroke-width="1.6" fill="none"/>
<path d="M139 631.7H1003" stroke="#151515" stroke-width="1.9" fill="none"/>
<path d="M139.6 53.00H148.9" stroke="#222" stroke-width="1.2"/>
<path d="M139.6 135.68H148.9" stroke="#222" stroke-width="1.2"/>
<path d="M139.6 218.36H148.9" stroke="#222" stroke-width="1.2"/>
<path d="M139.6 301.04H148.9" stroke="#222" stroke-width="1.2"/>
<path d="M139.6 383.72H148.9" stroke="#222" stroke-width="1.2"/>
<path d="M139.6 466.40H148.9" stroke="#222" stroke-width="1.2"/>
<path d="M139.6 549.08H148.9" stroke="#222" stroke-width="1.2"/>
<path d="M233.6 631.7V641" stroke="#222" stroke-width="1.2"/>
<path d="M329.7 631.7V641" stroke="#222" stroke-width="1.2"/>
<path d="M425.8 631.7V641" stroke="#222" stroke-width="1.2"/>
<path d="M522.0 631.7V641" stroke="#222" stroke-width="1.2"/>
<path d="M617.8 631.7V641" stroke="#222" stroke-width="1.2"/>
<path d="M713.8 631.7V641" stroke="#222" stroke-width="1.2"/>
<path d="M810.0 631.7V641" stroke="#222" stroke-width="1.2"/>
<path d="M906.0 631.7V641" stroke="#222" stroke-width="1.2"/>
<text x="306.85" y="368.90" font-size="22" text-anchor="middle">*</text>
<text x="306.85" y="349.80" font-size="22" text-anchor="middle">*</text>
<text x="321.55" y="201.90" font-size="22" text-anchor="middle">*</text>
<text x="321.55" y="182.80" font-size="22" text-anchor="middle">*</text>
<text x="350.95" y="154.40" font-size="22" text-anchor="middle">*</text>
<text x="350.95" y="135.30" font-size="22" text-anchor="middle">*</text>
<text x="417.65" y="127.15" font-size="22" text-anchor="middle">*</text>
<text x="417.65" y="108.05" font-size="22" text-anchor="middle">*</text>
<text x="432.35" y="219.15" font-size="22" text-anchor="middle">*</text>
<text x="432.35" y="200.05" font-size="22" text-anchor="middle">*</text>
<text x="447.05" y="166.90" font-size="22" text-anchor="middle">*</text>
<text x="447.05" y="147.80" font-size="22" text-anchor="middle">*</text>
<text x="499.35" y="349.65" font-size="22" text-anchor="middle">*</text>
<text x="499.35" y="330.55" font-size="22" text-anchor="middle">*</text>
<text x="514.05" y="139.40" font-size="22" text-anchor="middle">*</text>
<text x="514.05" y="120.30" font-size="22" text-anchor="middle">*</text>
<text x="528.75" y="210.15" font-size="22" text-anchor="middle">*</text>
<text x="528.75" y="191.05" font-size="22" text-anchor="middle">*</text>
<text x="543.45" y="311.40" font-size="22" text-anchor="middle">*</text>
<text x="543.45" y="292.30" font-size="22" text-anchor="middle">*</text>
<text x="595.45" y="384.50" font-size="22" text-anchor="middle">*</text>
<text x="610.15" y="323.90" font-size="22" text-anchor="middle">*</text>
<text x="610.15" y="304.80" font-size="22" text-anchor="middle">*</text>
<text x="624.85" y="291.40" font-size="22" text-anchor="middle">*</text>
<text x="624.85" y="272.30" font-size="22" text-anchor="middle">*</text>
<text x="639.55" y="186.90" font-size="22" text-anchor="middle">*</text>
<text x="639.55" y="167.80" font-size="22" text-anchor="middle">*</text>
<text x="691.15" y="373.90" font-size="22" text-anchor="middle">*</text>
<text x="691.15" y="354.80" font-size="22" text-anchor="middle">*</text>
<text x="705.85" y="187.15" font-size="22" text-anchor="middle">*</text>
<text x="705.85" y="168.05" font-size="22" text-anchor="middle">*</text>
<text x="720.55" y="337.65" font-size="22" text-anchor="middle">*</text>
<text x="720.55" y="318.55" font-size="22" text-anchor="middle">*</text>
<text x="802.05" y="274.40" font-size="22" text-anchor="middle">*</text>
<text x="802.05" y="255.30" font-size="22" text-anchor="middle">*</text>
<text x="816.75" y="261.90" font-size="22" text-anchor="middle">*</text>
<text x="816.75" y="242.80" font-size="22" text-anchor="middle">*</text>
<text x="831.45" y="269.40" font-size="22" text-anchor="middle">*</text>
<text x="831.45" y="250.30" font-size="22" text-anchor="middle">*</text>
<text x="128.6" y="60.90" font-size="24.5" text-anchor="end">10000</text>
<text x="128.6" y="143.58" font-size="24.5" text-anchor="end">1000</text>
<text x="128.6" y="226.26" font-size="24.5" text-anchor="end">100</text>
<text x="128.6" y="308.94" font-size="24.5" text-anchor="end">10</text>
<text x="128.6" y="391.62" font-size="24.5" text-anchor="end">1</text>
<text x="128.6" y="474.30" font-size="24.5" text-anchor="end">0.1</text>
<text x="128.6" y="556.98" font-size="24.5" text-anchor="end">0.01</text>
<text x="128.6" y="639.66" font-size="24.5" text-anchor="end">0.001</text>
<text x="223.60" y="674.6" font-size="24.5" text-anchor="middle">Control (0)</text>
<text x="328.70" y="674.6" font-size="24.5" text-anchor="middle">2</text>
<text x="424.80" y="674.6" font-size="24.5" text-anchor="middle">6</text>
<text x="521.00" y="674.6" font-size="24.5" text-anchor="middle">12</text>
<text x="616.80" y="674.6" font-size="24.5" text-anchor="middle">24</text>
<text x="712.80" y="674.6" font-size="24.5" text-anchor="middle">48</text>
<text x="809.00" y="674.6" font-size="24.5" text-anchor="middle">72</text>
<text x="905.00" y="674.6" font-size="24.5" text-anchor="middle">96</text>
<text x="569.8" y="704.3" font-size="24.5" text-anchor="middle">Hours after inoculation</text>
<text transform="translate(561.5,45) scale(1.035,1)" font-size="25.2" font-style="italic" text-anchor="middle">CaNDR1b</text>
<text x="205.6" y="72.6" font-size="24.5" text-anchor="middle">(a)</text>
<text transform="translate(52,354.2) rotate(-90)" font-size="24.5" text-anchor="middle">Relative expression (Log 10 RQ)</text>
<rect x="208.00" y="1063.20" width="17.60" height="283.10" fill="#fff"/>
<path d="M208.0 1066.5h17.6M216.4 1069.7h9.2M208.0 1074.5h17.6M208.0 1077.1h17.6M215.3 1079.7h10.3M215.7 1083.5h9.9M208.0 1086.7h17.6M208.0 1090.2h17.6M208.0 1093.7h17.6M208.0 1097.5h17.6M208.0 1100.7h10.1M208.0 1103.6h17.6M208.0 1107.8h17.6M208.0 1110.7h8.4M208.0 1113.9h17.6M208.0 1117.4h17.6M208.0 1120.0h17.6M208.0 1122.9h9.7M208.0 1126.7h17.6M208.0 1130.2h17.6M208.0 1132.8h17.6M208.0 1135.4h17.6M208.0 1138.0h8.2M215.7 1142.2h9.9M208.0 1145.7h17.6M208.0 1149.2h17.6M208.0 1151.8h10.1M208.0 1155.6h17.6M208.0 1159.8h17.6M208.0 1164.0h17.6M208.0 1167.5h9.9M208.0 1170.7h17.6M208.0 1175.5h17.6M208.0 1178.1h17.6M208.0 1181.0h11.0M208.0 1185.8h17.6M208.0 1188.4h17.6M208.0 1192.2h17.6M208.0 1195.4h17.6M208.0 1199.6h17.6M208.0 1202.5h10.8M208.0 1206.3h17.6M208.0 1209.2h17.6M208.0 1213.4h17.6M217.4 1216.6h8.2M213.7 1220.4h11.9M208.0 1225.2h10.3M208.0 1230.0h17.6M208.0 1233.2h17.6M215.0 1237.0h10.6M208.0 1240.2h17.6M208.0 1244.4h17.6M208.0 1247.6h17.6M208.0 1251.4h17.6M214.5 1254.0h11.1M208.0 1258.8h17.6M208.0 1262.3h17.6M208.0 1265.2h9.4M208.0 1269.4h8.4M213.5 1272.9h12.1M208.0 1276.7h12.3M208.0 1281.5h17.6M208.0 1285.0h17.6M208.0 1289.2h17.6M214.4 1293.4h11.2M208.0 1296.3h17.6M208.0 1299.2h8.1M208.0 1304.0h11.2M215.8 1306.9h9.8M208.0 1310.7h17.6M208.0 1313.9h17.6M214.5 1318.1h11.1M208.0 1322.9h17.6M208.0 1326.7h17.6M208.0 1329.6h17.6M216.7 1333.4h8.9M208.0 1336.0h17.6M216.0 1338.6h9.6M208.0 1341.2h17.6M208.0 1344.7h17.6M211.9 1065.7V1082.3M211.9 1126.3V1143.1M211.9 1147.6V1169.4M211.9 1188.1V1206.2M211.9 1206.4V1224.7M211.9 1228.5V1243.1M211.9 1245.2V1251.5M211.9 1270.8V1284.5M211.9 1286.3V1308.0M211.9 1311.5V1326.8M215.4 1085.1V1090.6M215.4 1105.0V1122.9M215.4 1125.8V1146.8M215.4 1149.4V1158.1M215.4 1161.8V1174.6M215.4 1179.4V1195.2M215.4 1212.9V1223.8M215.4 1227.1V1234.8M215.4 1254.6V1275.8M215.4 1277.3V1296.2M215.4 1298.0V1311.5M215.4 1332.6V1345.1M218.9 1069.1V1081.8M218.9 1147.2V1166.0M218.9 1169.8V1190.6M218.9 1216.2V1221.5M218.9 1315.9V1336.7M222.3 1068.2V1089.5M222.3 1091.9V1112.8M222.3 1114.2V1128.4M222.3 1141.3V1157.5M222.3 1189.3V1210.1M222.3 1219.9V1225.7M222.3 1226.4V1231.6M222.3 1250.8V1264.3M222.3 1265.7V1282.9M222.3 1316.2V1324.6M222.3 1328.0V1344.0" stroke="#222" stroke-width="1.25" fill="none"/>
<rect x="208.00" y="1063.20" width="17.60" height="283.10" fill="none" stroke="#1c1c1c" stroke-width="1.5"/>
<path d="M207.40 1063.20h18.80" stroke="#1c1c1c" stroke-width="1.8"/>
<rect x="225.60" y="1063.20" width="17.60" height="283.10" fill="url(#hatch)" stroke="#1c1c1c" stroke-width="1.1"/>
<path d="M225.10 1063.20h18.60" stroke="#1c1c1c" stroke-width="1.6"/>
<rect x="243.20" y="1063.20" width="17.60" height="283.10" fill="#fdfdfd" stroke="#262626" stroke-width="1.2"/>
<path d="M247.7 1082.7h1.3M254.3 1092.4h1.3M253.2 1291.0h1.3M256.9 1275.6h1.3M246.4 1185.2h1.3M245.6 1254.5h1.3M250.2 1158.4h1.3M256.6 1263.9h1.3M246.9 1241.4h1.3M250.9 1125.5h1.3M252.9 1286.9h1.3M249.6 1222.6h1.3M258.9 1091.7h1.3M246.6 1306.8h1.3M245.7 1169.1h1.3M245.2 1074.7h1.3M256.6 1110.4h1.3M257.7 1162.5h1.3M247.7 1262.4h1.3M254.5 1148.9h1.3M256.4 1319.7h1.3M256.2 1093.9h1.3M252.5 1170.5h1.3M254.1 1069.4h1.3M253.0 1246.5h1.3M245.7 1074.8h1.3M258.2 1156.7h1.3M246.8 1303.1h1.3M254.5 1248.0h1.3M257.1 1158.7h1.3M250.4 1330.3h1.3M254.9 1179.4h1.3M246.6 1141.6h1.3M252.6 1232.0h1.3M256.5 1224.2h1.3M253.9 1208.1h1.3M254.6 1114.5h1.3M248.6 1267.8h1.3M255.3 1293.3h1.3M257.7 1285.1h1.3M252.7 1311.0h1.3M251.7 1265.3h1.3M245.5 1180.4h1.3M255.8 1086.8h1.3M247.3 1070.0h1.3M253.6 1317.6h1.3M250.0 1315.4h1.3M256.9 1233.4h1.3M256.6 1211.4h1.3M248.5 1329.5h1.3M247.6 1124.6h1.3M247.2 1215.3h1.3M259.1 1202.4h1.3M249.4 1280.8h1.3M250.7 1168.4h1.3M247.9 1184.1h1.3M255.6 1274.0h1.3M257.8 1230.3h1.3M255.4 1082.9h1.3M246.6 1116.3h1.3M257.4 1144.3h1.3M246.5 1112.1h1.3M257.9 1166.5h1.3M249.0 1307.8h1.3M256.5 1321.7h1.3M259.3 1122.3h1.3M253.0 1175.8h1.3M253.4 1232.5h1.3M259.2 1075.0h1.3M254.3 1110.3h1.3M254.1 1075.4h1.3M251.4 1175.7h1.3M254.2 1100.0h1.3M244.9 1165.9h1.3M256.1 1244.1h1.3M256.1 1216.8h1.3M246.8 1264.9h1.3M255.0 1143.3h1.3M256.4 1119.1h1.3M249.2 1200.9h1.3M257.7 1065.6h1.3M248.6 1200.5h1.3M251.7 1302.3h1.3M259.2 1182.7h1.3M247.6 1263.5h1.3M258.4 1337.4h1.3M257.4 1098.5h1.3M255.4 1140.7h1.3M248.6 1293.2h1.3M247.9 1066.7h1.3M254.7 1208.7h1.3M250.8 1334.7h1.3M250.7 1120.2h1.3M258.8 1290.1h1.3M257.8 1084.6h1.3M245.0 1115.4h1.3M245.3 1225.4h1.3M252.2 1260.6h1.3M253.1 1310.1h1.3M255.9 1313.0h1.3M248.0 1081.7h1.3M257.9 1065.8h1.3M245.6 1095.1h1.3M259.3 1329.3h1.3M257.1 1259.3h1.3M251.1 1139.4h1.3M251.8 1265.6h1.3M256.4 1308.8h1.3M252.8 1112.6h1.3M249.4 1295.2h1.3M251.6 1294.8h1.3M253.0 1132.4h1.3M253.6 1250.3h1.3M249.5 1325.1h1.3M252.3 1301.9h1.3M258.2 1205.9h1.3M258.3 1114.6h1.3M250.0 1121.9h1.3M248.9 1323.7h1.3M256.8 1243.1h1.3M254.4 1274.4h1.3M249.0 1275.9h1.3M250.8 1247.2h1.3M245.2 1085.5h1.3M249.5 1241.5h1.3M250.2 1178.7h1.3M258.3 1227.1h1.3M257.8 1109.3h1.3M247.6 1259.1h1.3M252.6 1190.4h1.3M254.4 1199.2h1.3M245.8 1295.2h1.3M252.4 1307.5h1.3M248.0 1160.3h1.3M258.7 1214.1h1.3M250.3 1262.4h1.3M259.0 1210.0h1.3M258.5 1121.9h1.3M247.0 1103.8h1.3M252.6 1293.6h1.3M250.1 1265.4h1.3M258.5 1198.8h1.3M256.1 1174.2h1.3M245.4 1314.6h1.3M251.0 1224.6h1.3M258.0 1105.9h1.3M258.2 1073.1h1.3M257.4 1232.7h1.3M251.7 1128.1h1.3M256.8 1217.7h1.3" stroke="#7a7a7a" stroke-width="1.3" fill="none"/>
<path d="M242.70 1063.20h18.60" stroke="#1c1c1c" stroke-width="1.5"/>
<rect x="260.80" y="1063.20" width="17.60" height="283.10" fill="#4b4b4b" stroke="#2b2b2b" stroke-width="1.2"/>
<path d="M260.30 1063.20h18.60" stroke="#1c1c1c" stroke-width="1.8"/>
<rect x="301.60" y="1077.00" width="17.60" height="269.30" fill="#fff"/>
<path d="M301.6 1080.4h9.8M301.6 1085.2h17.6M301.6 1089.0h17.6M301.6 1092.5h17.6M301.6 1095.1h17.6M301.6 1097.7h17.6M301.6 1101.2h17.6M301.6 1104.4h10.5M301.6 1108.6h17.6M310.5 1113.4h8.7M301.6 1117.2h17.6M301.6 1120.7h17.6M301.6 1123.9h8.3M301.6 1126.5h8.3M301.6 1131.3h17.6M301.6 1134.2h8.0M301.6 1139.0h17.6M308.1 1142.2h11.1M301.6 1145.1h17.6M308.8 1149.3h10.4M309.8 1152.5h9.4M301.6 1155.7h17.6M301.6 1160.5h11.3M301.6 1165.3h8.6M301.6 1168.2h17.6M301.6 1170.8h17.6M301.6 1174.0h17.6M301.6 1177.8h17.6M301.6 1182.0h8.5M301.6 1185.5h17.6M301.6 1188.7h17.6M301.6 1193.5h10.7M301.6 1197.3h17.6M306.9 1200.2h12.3M301.6 1203.1h11.5M301.6 1205.7h8.0M301.6 1208.6h17.6M301.6 1212.4h17.6M301.6 1215.0h17.6M301.6 1219.8h10.5M301.6 1222.4h17.6M301.6 1227.2h9.0M301.6 1230.4h17.6M301.6 1233.0h17.6M301.6 1235.9h17.6M309.1 1238.5h10.1M301.6 1242.3h11.7M301.6 1244.9h9.5M310.9 1247.8h8.3M301.6 1251.3h17.6M308.3 1255.1h10.9M301.6 1257.7h17.6M307.9 1260.9h11.3M301.6 1263.8h9.1M301.6 1267.0h10.8M309.0 1270.8h10.2M308.1 1275.0h11.1M301.6 1277.6h17.6M301.6 1280.5h17.6M301.6 1283.7h17.6M301.6 1286.9h17.6M301.6 1289.8h17.6M309.8 1293.6h9.4M301.6 1296.5h11.6M301.6 1300.0h17.6M301.6 1302.9h17.6M301.6 1307.1h17.6M301.6 1310.3h17.6M301.6 1315.1h17.6M301.6 1318.3h10.2M301.6 1320.9h17.6M301.6 1324.1h10.2M301.6 1328.3h17.6M301.6 1331.8h17.6M308.4 1336.6h10.8M301.6 1339.5h10.1M301.6 1342.4h17.6M305.5 1079.6V1096.1M305.5 1096.5V1105.2M305.5 1105.4V1116.6M305.5 1118.8V1127.3M305.5 1129.5V1139.4M305.5 1141.9V1159.9M305.5 1219.8V1240.1M305.5 1244.8V1260.4M305.5 1264.5V1278.6M305.5 1279.5V1297.9M305.5 1299.4V1305.8M305.5 1307.3V1313.1M305.5 1314.8V1320.1M305.5 1321.6V1330.5M305.5 1342.9V1346.3M309.0 1078.5V1092.6M309.0 1094.0V1106.7M309.0 1131.3V1153.2M309.0 1170.2V1190.0M309.0 1207.2V1214.5M309.0 1215.3V1221.5M309.0 1221.8V1232.0M309.0 1254.2V1264.7M309.0 1265.9V1271.2M309.0 1275.8V1281.7M309.0 1282.9V1300.8M309.0 1303.4V1320.7M309.0 1321.4V1341.5M312.5 1079.2V1094.9M312.5 1110.8V1125.3M312.5 1125.6V1145.7M312.5 1170.1V1184.3M312.5 1187.3V1197.0M312.5 1201.7V1216.8M312.5 1220.3V1238.1M312.5 1242.0V1255.2M312.5 1283.1V1296.6M312.5 1298.6V1316.1M312.5 1317.9V1339.5M312.5 1339.7V1346.3M315.9 1079.7V1088.3M315.9 1090.5V1104.5M315.9 1108.0V1113.8M315.9 1114.4V1125.1M315.9 1157.9V1172.6M315.9 1174.1V1186.5M315.9 1191.3V1211.2M315.9 1211.9V1227.9M315.9 1230.9V1244.5M315.9 1246.3V1266.7M315.9 1268.5V1276.3M315.9 1277.0V1292.8" stroke="#222" stroke-width="1.25" fill="none"/>
<rect x="301.60" y="1077.00" width="17.60" height="269.30" fill="none" stroke="#1c1c1c" stroke-width="1.5"/>
<path d="M301.00 1077.00h18.80" stroke="#1c1c1c" stroke-width="1.8"/>
<path d="M301.60 1075.10h17.60M310.40 1075.10V1077.00" stroke="#333" stroke-width="0.8" fill="none"/>
<rect x="319.20" y="1096.00" width="17.60" height="250.30" fill="url(#hatch)" stroke="#1c1c1c" stroke-width="1.1"/>
<path d="M318.70 1096.00h18.60" stroke="#1c1c1c" stroke-width="1.6"/>
<path d="M319.20 1094.10h17.60M328.00 1094.10V1096.00" stroke="#333" stroke-width="0.8" fill="none"/>
<rect x="336.80" y="947.50" width="17.60" height="398.80" fill="#fdfdfd" stroke="#262626" stroke-width="1.2"/>
<path d="M343.1 1050.5h1.3M341.7 1152.2h1.3M346.2 1024.5h1.3M339.5 958.8h1.3M341.4 1010.8h1.3M347.4 1270.3h1.3M346.1 1203.9h1.3M344.4 978.5h1.3M349.2 1252.1h1.3M340.5 1071.9h1.3M348.3 1228.3h1.3M340.7 1102.2h1.3M343.9 1165.0h1.3M350.3 1006.9h1.3M343.8 1314.2h1.3M340.9 1018.9h1.3M349.8 1195.9h1.3M345.2 1130.5h1.3M339.2 1202.7h1.3M342.2 1123.7h1.3M351.9 1145.3h1.3M344.1 1088.5h1.3M342.5 1193.6h1.3M348.8 994.6h1.3M338.4 1105.3h1.3M340.7 1186.0h1.3M340.6 1148.6h1.3M345.2 1334.2h1.3M343.0 1052.7h1.3M343.2 1209.9h1.3M341.8 1044.7h1.3M348.7 1158.6h1.3M339.3 1284.0h1.3M340.2 1066.3h1.3M346.3 1129.7h1.3M349.5 1007.7h1.3M347.9 1019.9h1.3M340.0 1225.6h1.3M349.6 991.7h1.3M338.8 1028.5h1.3M346.7 961.5h1.3M352.2 956.2h1.3M349.1 1267.6h1.3M343.9 1271.6h1.3M340.9 1255.7h1.3M346.7 1286.0h1.3M349.9 1260.5h1.3M350.9 1049.7h1.3M338.8 1016.8h1.3M349.2 1154.0h1.3M345.5 1136.3h1.3M338.7 1315.5h1.3M346.6 1180.6h1.3M345.5 1299.2h1.3M345.2 1162.3h1.3M350.0 1007.7h1.3M350.4 1196.2h1.3M343.2 1007.8h1.3M345.8 1065.2h1.3M338.3 1275.4h1.3M349.2 1305.1h1.3M349.4 1109.7h1.3M351.6 1044.1h1.3M342.1 1134.5h1.3M348.2 988.3h1.3M339.1 1317.7h1.3M338.5 1242.9h1.3M345.1 1328.9h1.3M350.8 1132.7h1.3M346.3 1224.8h1.3M342.1 956.7h1.3M352.8 1164.2h1.3M350.0 1162.0h1.3M339.4 989.7h1.3M341.7 1331.1h1.3M350.2 1064.8h1.3M344.8 1332.2h1.3M345.7 1074.4h1.3M346.0 1015.8h1.3M346.6 977.4h1.3M345.9 993.0h1.3M338.9 1247.9h1.3M345.7 1012.2h1.3M344.1 1300.3h1.3M343.6 1057.1h1.3M345.3 1303.3h1.3M347.3 1136.5h1.3M347.5 1088.6h1.3M351.9 1056.8h1.3M341.5 1142.0h1.3M350.0 1254.6h1.3M347.9 949.8h1.3M350.0 1309.9h1.3M340.1 1026.8h1.3M341.5 1000.5h1.3M340.4 1147.7h1.3M348.4 1132.8h1.3M346.2 1220.9h1.3M350.3 1334.0h1.3M348.6 1145.7h1.3M339.1 1065.5h1.3M341.1 1328.7h1.3M348.9 999.8h1.3M343.2 1115.9h1.3M347.5 1334.6h1.3M343.2 1225.6h1.3M344.3 1306.9h1.3M345.6 1252.5h1.3M346.8 1233.9h1.3M349.3 1103.5h1.3M344.8 1194.6h1.3M348.7 1183.6h1.3M343.5 1142.5h1.3M345.7 1100.0h1.3M343.0 974.7h1.3M339.3 1010.6h1.3M339.6 1096.5h1.3M352.4 1107.6h1.3M351.6 1221.5h1.3M351.9 1206.9h1.3M352.3 1267.6h1.3M339.5 950.0h1.3M352.3 1083.9h1.3M347.9 1326.4h1.3M352.7 1156.8h1.3M343.1 1182.7h1.3M348.5 986.1h1.3M350.0 950.5h1.3M344.0 1282.9h1.3M351.3 1290.1h1.3M350.9 1129.1h1.3M344.5 1138.4h1.3M345.8 1035.0h1.3M343.7 1138.7h1.3M338.6 1175.4h1.3M339.2 1170.4h1.3M339.2 1022.2h1.3M345.0 1249.8h1.3M352.7 1252.1h1.3M350.2 1121.3h1.3M345.9 1165.4h1.3M352.4 1284.7h1.3M338.5 1222.2h1.3M348.8 1301.6h1.3M351.9 1105.8h1.3M344.4 1042.2h1.3M341.1 1296.6h1.3M349.1 1277.6h1.3M343.0 1251.3h1.3M338.5 1146.2h1.3M342.9 1067.9h1.3M352.7 950.3h1.3M352.2 1213.5h1.3M352.8 1109.5h1.3M351.4 1167.3h1.3M346.7 1197.4h1.3M342.1 1188.6h1.3M340.9 961.9h1.3M348.8 959.5h1.3M351.8 1038.7h1.3M351.6 1070.7h1.3M348.7 1083.0h1.3M348.4 1020.4h1.3M341.6 1054.6h1.3M352.6 1305.9h1.3M343.9 1328.1h1.3M351.9 1005.3h1.3M347.3 1033.0h1.3M343.3 1069.6h1.3M341.6 1181.2h1.3M341.5 1080.4h1.3M340.4 1054.8h1.3M349.6 1062.6h1.3M352.5 992.8h1.3M338.7 1047.6h1.3M345.8 1071.9h1.3M344.1 1245.1h1.3M348.0 1044.5h1.3M351.1 1091.8h1.3M346.6 1091.6h1.3M349.3 1177.9h1.3M345.6 1017.3h1.3M339.4 1052.3h1.3M350.7 1315.3h1.3M344.2 977.7h1.3M341.2 1319.2h1.3M340.2 1113.8h1.3M339.4 1145.4h1.3M343.3 1338.3h1.3M352.7 1148.1h1.3M350.5 1215.7h1.3M345.1 1254.0h1.3M338.8 1015.6h1.3M350.3 1153.8h1.3M348.3 1188.5h1.3M350.6 1048.6h1.3M340.9 1063.5h1.3M351.0 1148.5h1.3M349.4 1254.6h1.3M343.3 1240.7h1.3M349.8 1150.8h1.3M346.0 1135.4h1.3M344.9 1032.4h1.3M346.7 1288.1h1.3M342.0 1114.3h1.3M343.7 1066.3h1.3M351.8 1237.2h1.3M339.6 1153.5h1.3M343.4 1093.6h1.3M339.9 1187.4h1.3M343.5 1217.1h1.3M340.1 1153.9h1.3" stroke="#7a7a7a" stroke-width="1.3" fill="none"/>
<path d="M336.30 947.50h18.60" stroke="#1c1c1c" stroke-width="1.5"/>
<path d="M336.80 944.90h17.60M345.60 944.90V947.50" stroke="#333" stroke-width="0.8" fill="none"/>
<rect x="354.40" y="1129.40" width="17.60" height="216.90" fill="#4b4b4b" stroke="#2b2b2b" stroke-width="1.2"/>
<path d="M353.90 1129.40h18.60" stroke="#1c1c1c" stroke-width="1.8"/>
<rect x="395.70" y="1197.00" width="17.60" height="149.30" fill="#fff"/>
<path d="M404.6 1199.4h8.7M395.7 1203.6h17.6M395.7 1207.8h17.6M395.7 1210.4h17.6M395.7 1213.3h17.6M401.5 1218.1h11.8M395.7 1222.3h17.6M395.7 1226.1h17.6M395.7 1229.9h17.6M395.7 1233.1h17.6M395.7 1235.7h17.6M395.7 1238.6h17.6M395.7 1242.8h17.6M395.7 1247.6h8.3M395.7 1252.4h17.6M403.9 1255.0h9.4M395.7 1258.2h17.6M395.7 1262.0h17.6M395.7 1265.2h17.6M395.7 1268.4h17.6M401.1 1271.6h12.2M395.7 1274.8h17.6M395.7 1278.6h17.6M395.7 1281.2h17.6M395.7 1284.1h10.2M395.7 1286.7h17.6M395.7 1289.6h17.6M395.7 1293.8h17.6M395.7 1296.4h17.6M395.7 1299.9h17.6M395.7 1303.1h10.7M404.8 1307.9h8.5M395.7 1310.5h17.6M395.7 1313.7h17.6M395.7 1316.3h17.6M395.7 1319.5h17.6M395.7 1323.7h17.6M395.7 1328.5h17.6M395.7 1332.3h9.1M395.7 1335.2h17.6M395.7 1338.4h17.6M395.7 1342.2h17.6M399.6 1202.9V1223.0M399.6 1237.5V1243.2M399.6 1245.2V1254.3M399.6 1272.7V1281.9M399.6 1282.5V1294.5M399.6 1295.5V1302.3M399.6 1306.6V1315.0M399.6 1318.1V1326.2M399.6 1330.6V1346.3M403.1 1197.0V1206.1M403.1 1206.3V1219.0M403.1 1222.3V1237.7M403.1 1241.9V1251.0M403.1 1264.5V1285.0M403.1 1286.9V1302.4M403.1 1304.8V1315.8M403.1 1317.8V1334.1M403.1 1334.1V1346.3M406.6 1198.1V1216.9M406.6 1231.1V1238.8M406.6 1240.3V1259.3M406.6 1260.5V1277.8M406.6 1280.7V1300.0M406.6 1341.4V1346.3M410.0 1238.6V1247.4M410.0 1278.5V1290.8M410.0 1313.2V1319.3M410.0 1337.5V1346.3" stroke="#222" stroke-width="1.25" fill="none"/>
<rect x="395.70" y="1197.00" width="17.60" height="149.30" fill="none" stroke="#1c1c1c" stroke-width="1.5"/>
<path d="M395.10 1197.00h18.80" stroke="#1c1c1c" stroke-width="1.8"/>
<rect x="413.30" y="1001.00" width="17.60" height="345.30" fill="url(#hatch)" stroke="#1c1c1c" stroke-width="1.1"/>
<path d="M412.80 1001.00h18.60" stroke="#1c1c1c" stroke-width="1.6"/>
<path d="M413.30 998.40h17.60M422.10 998.40V1001.00" stroke="#333" stroke-width="0.8" fill="none"/>
<rect x="430.90" y="823.90" width="17.60" height="522.40" fill="#fdfdfd" stroke="#262626" stroke-width="1.2"/>
<path d="M442.2 1320.1h1.3M443.7 994.6h1.3M445.9 827.0h1.3M440.6 856.9h1.3M438.4 965.7h1.3M434.2 1281.0h1.3M444.3 1103.1h1.3M434.8 1090.3h1.3M435.7 1110.4h1.3M442.2 1316.1h1.3M436.0 963.9h1.3M435.1 1315.4h1.3M444.1 1007.7h1.3M438.7 1251.9h1.3M440.9 1130.4h1.3M438.4 1133.5h1.3M432.4 916.1h1.3M444.7 1304.8h1.3M440.6 1167.7h1.3M438.7 1012.3h1.3M440.9 1231.4h1.3M445.7 957.5h1.3M439.0 1054.2h1.3M443.3 1278.3h1.3M446.6 1173.2h1.3M441.2 883.7h1.3M433.3 836.6h1.3M441.5 1125.0h1.3M433.0 1284.3h1.3M442.5 1183.0h1.3M436.0 982.9h1.3M440.5 998.6h1.3M440.3 1164.9h1.3M441.2 994.1h1.3M446.9 957.9h1.3M440.6 1024.1h1.3M432.9 1008.6h1.3M442.0 1277.1h1.3M438.2 908.0h1.3M441.7 850.7h1.3M439.9 885.8h1.3M442.6 1220.0h1.3M443.8 1003.3h1.3M443.9 1092.5h1.3M435.8 1192.8h1.3M435.6 1318.9h1.3M444.3 831.1h1.3M442.5 1060.3h1.3M433.2 1071.0h1.3M441.1 838.5h1.3M434.7 1223.6h1.3M436.2 1274.7h1.3M438.2 1167.9h1.3M437.8 834.5h1.3M442.2 976.4h1.3M440.5 1189.5h1.3M440.4 923.7h1.3M434.8 1255.5h1.3M445.5 1000.0h1.3M441.4 1325.1h1.3M434.6 1088.1h1.3M443.9 1164.8h1.3M440.8 1236.2h1.3M437.8 941.7h1.3M437.0 989.3h1.3M438.9 887.9h1.3M444.7 1160.6h1.3M442.7 1167.2h1.3M443.6 1057.5h1.3M436.2 939.1h1.3M434.1 1327.3h1.3M442.3 1155.1h1.3M441.3 1049.7h1.3M440.0 846.5h1.3M442.4 1047.3h1.3M433.7 1314.9h1.3M439.9 833.6h1.3M435.9 991.9h1.3M439.6 825.8h1.3M438.3 1168.6h1.3M442.1 1002.0h1.3M442.9 901.3h1.3M433.0 836.3h1.3M434.9 1252.6h1.3M437.0 1296.3h1.3M443.1 1241.6h1.3M446.5 1162.9h1.3M442.3 1247.0h1.3M442.1 1047.5h1.3M442.4 868.5h1.3M443.9 858.2h1.3M446.2 1174.9h1.3M446.1 1157.5h1.3M438.3 1086.3h1.3M439.0 874.0h1.3M444.6 913.3h1.3M435.6 996.0h1.3M442.5 1038.3h1.3M436.9 1129.1h1.3M437.0 919.8h1.3M444.0 1060.8h1.3M442.5 840.2h1.3M446.8 919.5h1.3M440.4 915.8h1.3M437.2 1230.1h1.3M440.0 1335.8h1.3M434.1 1279.7h1.3M445.7 993.7h1.3M445.8 968.4h1.3M442.7 996.8h1.3M440.1 1152.1h1.3M444.8 993.4h1.3M433.6 970.9h1.3M443.2 1001.7h1.3M439.0 1165.1h1.3M438.4 1284.0h1.3M438.3 1076.6h1.3M445.1 853.5h1.3M438.0 1174.0h1.3M442.0 1054.3h1.3M438.8 1297.2h1.3M445.5 961.1h1.3M438.8 830.1h1.3M434.0 1006.5h1.3M437.8 1189.8h1.3M434.4 1060.2h1.3M444.7 888.0h1.3M435.6 1009.3h1.3M440.9 1314.4h1.3M435.4 1061.7h1.3M441.2 1252.2h1.3M445.8 1292.9h1.3M434.8 999.0h1.3M433.1 842.8h1.3M438.2 1052.0h1.3M441.3 1315.1h1.3M434.1 1327.2h1.3M442.7 895.3h1.3M442.4 888.4h1.3M433.5 1167.3h1.3M434.4 1170.2h1.3M438.6 1171.1h1.3M437.0 1143.5h1.3M433.8 1272.9h1.3M444.0 1014.0h1.3M441.9 874.1h1.3M441.6 949.3h1.3M446.4 887.4h1.3M432.8 1288.1h1.3M442.4 1147.3h1.3M433.7 1054.4h1.3M443.1 862.3h1.3M444.0 1132.6h1.3M434.2 1096.1h1.3M438.5 1239.7h1.3M440.6 1259.4h1.3M443.5 1084.4h1.3M435.3 1340.1h1.3M437.0 1152.5h1.3M444.6 922.1h1.3M433.1 1235.0h1.3M443.1 909.5h1.3M436.8 1147.1h1.3M440.7 1267.2h1.3M439.4 923.4h1.3M443.6 1041.1h1.3M436.3 898.7h1.3M436.1 890.0h1.3M434.7 1094.3h1.3M434.0 918.2h1.3M442.6 918.9h1.3M443.4 836.0h1.3M436.9 902.3h1.3M440.3 1077.7h1.3M443.3 1051.4h1.3M444.8 855.9h1.3M441.1 856.1h1.3M437.4 1296.7h1.3M435.8 856.9h1.3M446.7 832.0h1.3M441.2 902.8h1.3M441.3 1253.6h1.3M434.2 1303.1h1.3M442.3 888.1h1.3M435.2 1028.3h1.3M443.9 1274.9h1.3M435.1 1277.2h1.3M441.4 843.6h1.3M440.2 971.6h1.3M440.7 1228.0h1.3M434.1 865.8h1.3M433.3 1104.4h1.3M443.1 965.6h1.3M442.9 1277.3h1.3M439.5 875.3h1.3M432.6 880.9h1.3M443.3 1249.2h1.3M432.5 1155.8h1.3M445.8 979.9h1.3M446.4 1233.1h1.3M435.2 922.5h1.3M444.7 976.9h1.3M432.9 834.0h1.3M442.3 1179.1h1.3M434.9 1296.9h1.3M437.5 954.9h1.3M435.9 1164.0h1.3M443.5 1270.8h1.3M433.4 1153.7h1.3M437.1 869.9h1.3M442.0 913.8h1.3M433.7 1330.0h1.3M433.2 1077.2h1.3M438.1 916.5h1.3M446.8 859.2h1.3M433.3 992.3h1.3M441.0 1116.6h1.3M442.7 1124.3h1.3M439.2 1335.2h1.3M434.0 1068.6h1.3M437.1 1333.7h1.3M439.6 1085.0h1.3M443.9 1338.6h1.3M442.2 845.2h1.3M434.7 891.9h1.3M433.1 843.9h1.3M446.3 1037.7h1.3M443.3 961.1h1.3M435.5 1336.6h1.3M433.7 1275.2h1.3M433.3 1073.8h1.3M438.9 1119.1h1.3M441.3 891.1h1.3M445.1 930.9h1.3M436.1 852.0h1.3M435.6 1129.3h1.3M439.3 1320.8h1.3M444.4 1009.9h1.3M436.9 1086.9h1.3M436.4 1011.7h1.3M441.9 942.2h1.3M446.2 1284.4h1.3M442.2 1199.4h1.3M446.9 1074.1h1.3M438.5 1162.6h1.3M443.7 1054.0h1.3M435.6 1343.0h1.3M442.9 1176.7h1.3M433.7 1037.8h1.3M441.5 1278.4h1.3M436.9 870.9h1.3M442.9 1271.7h1.3M440.4 1195.8h1.3M437.2 990.4h1.3M434.1 879.0h1.3M444.0 1249.9h1.3M440.7 1109.1h1.3M439.9 1240.6h1.3M433.6 937.8h1.3M434.6 1335.5h1.3M439.6 1192.3h1.3M436.9 1246.6h1.3M443.8 1031.0h1.3M447.0 1337.3h1.3M443.5 1002.6h1.3M446.2 1327.7h1.3M440.7 1012.8h1.3M441.5 990.3h1.3M434.1 983.0h1.3M438.0 1076.0h1.3M440.3 1306.7h1.3M441.8 1059.6h1.3M439.5 1237.5h1.3M441.7 1042.6h1.3M437.9 1210.2h1.3M441.9 1005.4h1.3M434.5 912.8h1.3M432.8 1198.2h1.3" stroke="#7a7a7a" stroke-width="1.3" fill="none"/>
<path d="M430.40 823.90h18.60" stroke="#1c1c1c" stroke-width="1.5"/>
<rect x="448.50" y="1034.50" width="17.60" height="311.80" fill="#4b4b4b" stroke="#2b2b2b" stroke-width="1.2"/>
<path d="M448.00 1034.50h18.60" stroke="#1c1c1c" stroke-width="1.8"/>
<rect x="489.90" y="980.00" width="17.60" height="366.30" fill="#fff"/>
<path d="M489.9 983.2h17.6M495.9 987.0h11.6M489.9 991.2h17.6M489.9 993.8h17.6M497.1 998.6h10.4M489.9 1001.8h9.6M489.9 1004.7h10.2M489.9 1007.6h17.6M489.9 1011.4h17.6M489.9 1014.0h17.6M489.9 1017.8h17.6M498.0 1022.6h9.5M489.9 1026.4h8.8M495.7 1031.2h11.8M489.9 1036.0h17.6M489.9 1039.2h17.6M496.5 1042.4h11.0M495.5 1045.6h12.0M489.9 1049.8h8.5M489.9 1054.6h17.6M489.9 1057.8h17.6M489.9 1062.0h17.6M497.8 1065.2h9.7M498.3 1069.0h9.2M489.9 1073.8h11.2M489.9 1076.7h17.6M489.9 1079.3h12.3M489.9 1082.2h17.6M489.9 1086.0h17.6M496.7 1090.8h10.8M489.9 1094.0h17.6M489.9 1097.5h17.6M497.0 1100.4h10.5M489.9 1104.2h12.2M489.9 1107.1h17.6M489.9 1110.3h17.6M489.9 1113.8h17.6M489.9 1117.3h17.6M489.9 1119.9h17.6M489.9 1122.8h17.6M489.9 1127.6h17.6M489.9 1131.8h17.6M496.5 1135.6h11.0M497.8 1139.8h9.7M489.9 1143.3h17.6M489.9 1148.1h17.6M489.9 1151.9h17.6M489.9 1156.7h17.6M489.9 1161.5h17.6M498.2 1165.7h9.3M489.9 1168.9h17.6M489.9 1172.4h17.6M498.6 1176.6h8.9M489.9 1180.4h10.4M489.9 1183.0h17.6M489.9 1185.9h8.8M489.9 1188.8h17.6M496.2 1191.7h11.3M489.9 1196.5h17.6M489.9 1200.3h17.6M489.9 1203.2h17.6M489.9 1208.0h17.6M489.9 1211.8h17.6M489.9 1214.4h17.6M499.3 1217.3h8.2M489.9 1220.5h17.6M489.9 1223.1h17.6M489.9 1227.9h17.6M489.9 1231.1h17.6M489.9 1234.3h17.6M489.9 1237.8h17.6M489.9 1241.0h17.6M489.9 1243.9h17.6M489.9 1248.7h17.6M489.9 1251.9h17.6M499.5 1255.1h8.0M489.9 1258.0h17.6M498.7 1262.8h8.8M489.9 1267.0h17.6M489.9 1270.5h17.6M496.3 1274.0h11.2M489.9 1277.5h10.2M489.9 1280.4h17.6M489.9 1283.0h17.6M489.9 1287.8h17.6M489.9 1290.7h17.6M489.9 1294.5h17.6M495.9 1297.1h11.6M489.9 1300.6h17.6M489.9 1303.5h17.6M489.9 1308.3h17.6M489.9 1310.9h17.6M496.7 1313.8h10.8M489.9 1317.6h17.6M489.9 1321.1h17.6M489.9 1323.7h17.6M489.9 1327.9h17.6M495.7 1330.8h11.8M489.9 1334.3h17.6M489.9 1337.8h17.6M489.9 1342.0h17.6M493.8 985.2V991.6M493.8 1012.8V1023.1M493.8 1027.7V1037.4M493.8 1063.1V1074.2M493.8 1079.2V1086.3M493.8 1089.7V1098.5M493.8 1099.4V1110.2M493.8 1110.6V1131.7M493.8 1135.5V1149.6M493.8 1152.5V1172.7M493.8 1173.7V1184.5M493.8 1187.5V1203.3M493.8 1203.7V1212.1M493.8 1214.2V1229.6M493.8 1231.1V1241.7M493.8 1244.9V1257.2M493.8 1257.6V1263.3M493.8 1267.0V1281.9M493.8 1284.9V1301.2M493.8 1323.9V1338.8M493.8 1342.9V1346.3M497.3 983.8V989.3M497.3 1022.6V1031.7M497.3 1032.8V1043.1M497.3 1048.0V1064.1M497.3 1081.9V1089.6M497.3 1093.6V1109.0M497.3 1111.9V1132.0M497.3 1157.7V1171.2M497.3 1171.9V1190.4M497.3 1194.5V1207.0M497.3 1225.2V1236.1M497.3 1239.2V1245.1M497.3 1250.1V1256.1M497.3 1261.0V1280.2M497.3 1281.8V1291.4M497.3 1296.2V1316.3M497.3 1317.0V1337.1M497.3 1341.7V1346.3M500.8 985.4V994.8M500.8 998.7V1018.7M500.8 1020.1V1029.0M500.8 1032.6V1044.9M500.8 1046.0V1060.3M500.8 1063.0V1075.4M500.8 1079.5V1090.2M500.8 1093.4V1099.2M500.8 1101.3V1122.4M500.8 1125.0V1143.3M500.8 1145.0V1153.9M500.8 1157.8V1179.2M500.8 1180.6V1187.6M500.8 1205.1V1210.9M500.8 1226.8V1243.8M500.8 1261.9V1280.6M500.8 1284.6V1304.1M500.8 1308.7V1323.9M500.8 1326.1V1333.5M500.8 1337.0V1346.3M504.2 998.5V1004.4M504.2 1004.9V1017.4M504.2 1019.1V1040.7M504.2 1044.9V1066.8M504.2 1068.2V1089.4M504.2 1114.4V1126.7M504.2 1131.4V1137.5M504.2 1142.5V1159.6M504.2 1162.4V1182.8M504.2 1185.8V1193.2M504.2 1226.5V1238.4M504.2 1242.1V1249.6M504.2 1252.8V1264.3M504.2 1281.0V1293.0M504.2 1297.3V1314.0M504.2 1316.3V1324.7M504.2 1326.9V1332.5M504.2 1335.6V1346.3" stroke="#222" stroke-width="1.25" fill="none"/>
<rect x="489.90" y="980.00" width="17.60" height="366.30" fill="none" stroke="#1c1c1c" stroke-width="1.5"/>
<path d="M489.30 980.00h18.80" stroke="#1c1c1c" stroke-width="1.8"/>
<rect x="507.50" y="924.25" width="17.60" height="422.05" fill="url(#hatch)" stroke="#1c1c1c" stroke-width="1.1"/>
<path d="M507.00 924.25h18.60" stroke="#1c1c1c" stroke-width="1.6"/>
<rect x="525.10" y="932.00" width="17.60" height="414.30" fill="#fdfdfd" stroke="#262626" stroke-width="1.2"/>
<path d="M533.8 1287.4h1.3M532.3 1238.9h1.3M538.0 1142.6h1.3M532.3 979.1h1.3M531.8 1338.3h1.3M531.1 1322.0h1.3M531.4 1065.5h1.3M535.7 1322.9h1.3M536.2 1208.5h1.3M532.0 1273.0h1.3M532.0 1285.3h1.3M531.8 1268.6h1.3M533.1 977.8h1.3M536.4 935.1h1.3M538.3 1060.6h1.3M527.7 1275.4h1.3M531.9 1070.8h1.3M534.5 1222.4h1.3M534.4 1139.5h1.3M529.4 1293.7h1.3M534.5 974.9h1.3M528.6 1243.4h1.3M539.0 1165.9h1.3M529.5 1340.1h1.3M538.1 1010.3h1.3M535.3 1212.0h1.3M537.6 1021.7h1.3M530.6 1248.8h1.3M527.9 1336.6h1.3M536.9 1222.0h1.3M530.7 1178.1h1.3M531.3 1229.8h1.3M536.5 1322.9h1.3M531.4 1202.5h1.3M530.9 1142.6h1.3M529.4 1191.1h1.3M540.5 994.4h1.3M534.5 986.5h1.3M532.3 1162.1h1.3M530.1 1321.5h1.3M531.6 1223.2h1.3M529.8 1086.7h1.3M535.3 1294.1h1.3M535.0 1003.5h1.3M529.9 1258.1h1.3M533.8 1304.2h1.3M527.3 1159.3h1.3M540.0 1245.1h1.3M539.8 1127.7h1.3M539.0 1012.5h1.3M535.2 1089.5h1.3M530.2 1281.3h1.3M532.9 1075.0h1.3M529.2 1241.9h1.3M534.3 1312.2h1.3M533.0 972.6h1.3M531.8 979.8h1.3M535.1 1011.5h1.3M534.7 1069.6h1.3M536.3 1129.8h1.3M534.0 1313.2h1.3M535.6 1186.4h1.3M529.8 1041.4h1.3M537.3 946.7h1.3M538.9 1158.0h1.3M528.3 1203.7h1.3M538.9 1190.0h1.3M531.0 1174.2h1.3M527.6 983.1h1.3M526.8 1309.8h1.3M535.2 963.3h1.3M537.8 1168.8h1.3M529.8 1031.9h1.3M529.9 1201.4h1.3M537.1 1205.3h1.3M530.7 1219.2h1.3M534.6 1144.9h1.3M538.5 1063.1h1.3M528.8 1035.4h1.3M534.7 1138.1h1.3M530.4 1184.6h1.3M536.2 963.9h1.3M529.4 1008.3h1.3M536.7 1010.2h1.3M540.3 1085.1h1.3M532.3 1286.0h1.3M532.3 1009.3h1.3M537.1 976.6h1.3M530.7 1258.6h1.3M530.4 1153.4h1.3M529.6 981.3h1.3M528.9 989.2h1.3M535.3 1165.1h1.3M535.4 1341.0h1.3M531.0 1226.8h1.3M529.9 1200.4h1.3M530.3 1238.3h1.3M538.6 1143.5h1.3M529.7 1215.5h1.3M528.5 1207.0h1.3M541.1 1100.0h1.3M535.8 1296.5h1.3M538.2 1244.8h1.3M539.4 951.9h1.3M529.0 1084.9h1.3M529.1 951.4h1.3M526.7 1090.2h1.3M530.8 975.9h1.3M540.9 960.8h1.3M527.2 993.4h1.3M536.2 973.1h1.3M537.7 1046.1h1.3M537.3 1315.0h1.3M527.1 1013.2h1.3M540.0 970.8h1.3M536.8 975.3h1.3M534.1 1247.7h1.3M540.9 1171.0h1.3M528.9 1140.8h1.3M531.7 1187.8h1.3M529.1 975.2h1.3M532.3 1012.1h1.3M532.6 953.0h1.3M533.2 1119.9h1.3M536.5 1169.4h1.3M530.9 1005.4h1.3M536.1 1086.9h1.3M528.8 1299.0h1.3M539.0 1200.2h1.3M537.6 987.0h1.3M527.3 993.0h1.3M534.2 1303.2h1.3M537.0 944.5h1.3M536.1 1041.4h1.3M535.6 937.1h1.3M538.3 1156.0h1.3M533.0 1135.3h1.3M539.0 1236.7h1.3M534.3 1137.0h1.3M527.4 1223.1h1.3M528.2 1150.8h1.3M530.3 1124.5h1.3M531.1 1251.5h1.3M531.5 1298.3h1.3M536.3 1138.1h1.3M529.1 1234.5h1.3M538.6 960.1h1.3M533.1 1067.0h1.3M528.0 1094.3h1.3M528.0 1307.5h1.3M527.7 1344.6h1.3M529.3 1129.8h1.3M538.0 1160.6h1.3M534.5 1310.8h1.3M527.1 1113.7h1.3M534.4 1282.1h1.3M529.2 1223.4h1.3M533.6 1225.9h1.3M528.3 1317.0h1.3M527.6 1028.2h1.3M536.9 1182.4h1.3M531.8 1044.8h1.3M532.8 1015.2h1.3M537.9 1094.0h1.3M530.3 1173.3h1.3M529.0 1224.1h1.3M534.2 1086.9h1.3M534.5 1101.0h1.3M533.4 1177.0h1.3M535.4 1010.3h1.3M535.6 1251.9h1.3M539.2 950.5h1.3M532.8 1034.6h1.3M527.8 945.4h1.3M538.7 1103.0h1.3M527.3 1258.9h1.3M535.8 1286.6h1.3M536.4 966.0h1.3M537.4 1274.1h1.3M530.8 1084.7h1.3M535.7 983.8h1.3M527.8 991.1h1.3M531.8 999.6h1.3M537.3 1090.5h1.3M535.9 1290.5h1.3M530.9 1251.4h1.3M535.7 1121.6h1.3M533.8 1316.0h1.3M532.3 1097.5h1.3M531.0 1319.5h1.3M532.9 1291.3h1.3M538.5 1317.5h1.3M530.4 1079.3h1.3M541.0 948.3h1.3M534.3 1209.1h1.3M531.7 933.7h1.3M531.0 1299.8h1.3M534.0 1071.2h1.3M528.1 1318.1h1.3M535.9 938.6h1.3M535.8 1272.0h1.3M535.1 1166.0h1.3M538.3 1019.3h1.3M533.7 1092.5h1.3M536.6 1254.7h1.3M536.4 1300.6h1.3M535.9 1143.7h1.3M531.6 1001.9h1.3M529.1 1115.2h1.3M530.1 1170.2h1.3M529.1 1118.0h1.3M528.0 1143.9h1.3M533.2 1227.4h1.3M533.9 1042.9h1.3M531.4 1028.5h1.3M534.8 1100.2h1.3M541.1 1244.1h1.3M534.8 1074.7h1.3M539.0 1239.6h1.3M537.8 1063.8h1.3" stroke="#7a7a7a" stroke-width="1.3" fill="none"/>
<path d="M524.60 932.00h18.60" stroke="#1c1c1c" stroke-width="1.5"/>
<rect x="542.70" y="1097.70" width="17.60" height="248.60" fill="#4b4b4b" stroke="#2b2b2b" stroke-width="1.2"/>
<path d="M542.20 1097.70h18.60" stroke="#1c1c1c" stroke-width="1.8"/>
<rect x="583.20" y="1068.40" width="17.60" height="277.90" fill="#fff"/>
<path d="M583.2 1071.5h17.6M583.2 1075.7h17.6M583.2 1079.9h17.6M591.6 1084.1h9.2M583.2 1088.3h10.5M583.2 1091.2h17.6M583.2 1094.7h17.6M583.2 1097.6h17.6M583.2 1100.2h17.6M592.6 1104.0h8.2M583.2 1106.9h17.6M583.2 1109.5h17.6M592.4 1113.0h8.4M583.2 1116.2h17.6M583.2 1118.8h17.6M583.2 1122.6h17.6M583.2 1126.8h17.6M583.2 1131.0h9.4M583.2 1135.2h17.6M583.2 1138.7h17.6M583.2 1141.6h17.6M583.2 1145.4h17.6M583.2 1148.9h10.3M583.2 1153.1h17.6M583.2 1157.3h17.6M583.2 1161.5h17.6M583.2 1165.0h17.6M583.2 1168.5h10.5M592.6 1172.7h8.2M589.4 1175.9h11.4M589.4 1178.8h11.4M583.2 1183.0h9.0M590.1 1187.8h10.7M583.2 1191.6h11.3M583.2 1195.1h17.6M589.1 1198.6h11.7M592.8 1202.1h8.0M583.2 1206.9h17.6M592.2 1210.4h8.6M583.2 1213.6h17.6M583.2 1217.4h12.1M583.2 1221.6h17.6M583.2 1224.5h17.6M583.2 1227.4h17.6M583.2 1230.9h9.1M583.2 1233.5h9.7M589.5 1236.1h11.3M589.0 1239.6h11.8M583.2 1242.5h11.6M592.5 1245.1h8.3M583.2 1249.3h17.6M583.2 1254.1h17.6M583.2 1258.3h17.6M588.6 1260.9h12.2M583.2 1263.8h17.6M583.2 1266.4h17.6M591.2 1271.2h9.6M588.6 1275.4h12.2M583.2 1279.6h17.6M583.2 1283.8h8.5M583.2 1287.0h17.6M589.1 1290.8h11.7M583.2 1293.4h17.6M583.2 1296.9h17.6M583.2 1299.5h17.6M591.6 1302.4h9.2M583.2 1307.2h8.7M583.2 1309.8h9.3M583.2 1313.0h17.6M583.2 1316.8h9.1M589.3 1320.6h11.5M592.8 1324.8h8.0M583.2 1329.0h17.6M583.2 1332.5h17.6M583.2 1337.3h17.6M583.2 1340.5h17.6M583.2 1344.0h10.5M587.1 1073.0V1079.7M587.1 1081.2V1095.2M587.1 1096.9V1115.2M587.1 1147.0V1165.5M587.1 1167.8V1187.7M587.1 1190.7V1207.3M587.1 1208.0V1225.0M587.1 1227.2V1234.3M587.1 1275.1V1290.1M587.1 1291.8V1300.2M587.1 1305.2V1322.9M587.1 1334.6V1346.3M590.6 1069.1V1077.8M590.6 1101.4V1120.5M590.6 1121.8V1140.0M590.6 1140.6V1152.3M590.6 1154.9V1172.8M590.6 1174.9V1194.4M590.6 1197.2V1211.0M590.6 1222.3V1228.6M590.6 1228.7V1243.0M590.6 1260.3V1274.1M590.6 1301.5V1319.8M590.6 1321.0V1327.7M594.1 1070.6V1078.1M594.1 1126.6V1142.1M594.1 1143.4V1153.3M594.1 1155.8V1176.5M594.1 1188.0V1193.0M594.1 1194.7V1215.6M594.1 1277.0V1283.8M594.1 1284.5V1297.8M594.1 1314.5V1321.7M594.1 1323.9V1342.2M597.5 1070.3V1090.4M597.5 1093.0V1110.8M597.5 1112.0V1131.8M597.5 1158.3V1172.4M597.5 1189.0V1205.9M597.5 1208.2V1215.6M597.5 1220.5V1235.3M597.5 1240.0V1259.7M597.5 1260.7V1274.4M597.5 1293.3V1308.4M597.5 1334.3V1346.0" stroke="#222" stroke-width="1.25" fill="none"/>
<rect x="583.20" y="1068.40" width="17.60" height="277.90" fill="none" stroke="#1c1c1c" stroke-width="1.5"/>
<path d="M582.60 1068.40h18.80" stroke="#1c1c1c" stroke-width="1.8"/>
<rect x="600.80" y="1151.25" width="17.60" height="195.05" fill="url(#hatch)" stroke="#1c1c1c" stroke-width="1.1"/>
<path d="M600.30 1151.25h18.60" stroke="#1c1c1c" stroke-width="1.6"/>
<rect x="618.40" y="914.25" width="17.60" height="432.05" fill="#fdfdfd" stroke="#262626" stroke-width="1.2"/>
<path d="M630.9 1117.7h1.3M628.1 957.4h1.3M630.4 1088.7h1.3M633.0 962.4h1.3M632.1 957.9h1.3M620.8 1341.1h1.3M625.4 974.9h1.3M628.8 928.7h1.3M626.0 1092.9h1.3M621.1 1239.7h1.3M630.8 1060.6h1.3M623.1 1247.5h1.3M629.4 1053.0h1.3M626.9 1256.9h1.3M629.9 983.7h1.3M621.4 1290.4h1.3M623.8 1003.9h1.3M622.7 966.7h1.3M630.5 1337.8h1.3M623.0 1072.3h1.3M626.3 1029.1h1.3M630.9 1196.5h1.3M620.6 1315.5h1.3M620.5 1272.4h1.3M625.2 1025.7h1.3M625.1 989.5h1.3M630.3 956.4h1.3M632.6 1223.4h1.3M629.4 1170.2h1.3M631.2 1206.2h1.3M629.8 1286.5h1.3M634.3 1294.7h1.3M623.0 1243.2h1.3M625.5 1189.9h1.3M633.5 1007.6h1.3M631.6 1269.6h1.3M620.2 1176.2h1.3M631.0 986.9h1.3M634.0 1095.0h1.3M623.4 985.2h1.3M633.4 1321.7h1.3M630.3 1012.2h1.3M630.7 1265.0h1.3M624.7 1310.1h1.3M624.9 1248.2h1.3M623.2 998.4h1.3M632.7 1240.4h1.3M633.9 1075.9h1.3M628.6 1025.7h1.3M630.2 1171.7h1.3M631.9 1296.1h1.3M623.4 1014.7h1.3M630.6 1014.5h1.3M623.6 1319.2h1.3M623.9 929.8h1.3M632.2 1025.0h1.3M621.6 1152.2h1.3M620.0 1241.9h1.3M631.1 954.3h1.3M631.8 950.5h1.3M630.3 1183.6h1.3M625.7 1181.8h1.3M633.9 1195.7h1.3M630.2 1166.9h1.3M632.8 1023.4h1.3M633.3 978.9h1.3M623.9 1301.5h1.3M629.8 1289.0h1.3M633.8 1045.1h1.3M633.7 925.9h1.3M622.4 975.6h1.3M632.8 937.7h1.3M632.8 1299.3h1.3M625.1 949.7h1.3M621.1 1092.8h1.3M629.9 1081.3h1.3M624.7 1020.7h1.3M621.3 943.4h1.3M623.5 1309.7h1.3M622.7 1152.8h1.3M628.5 1139.5h1.3M621.1 1231.3h1.3M622.4 1042.8h1.3M623.9 1127.4h1.3M623.3 944.6h1.3M631.5 1033.2h1.3M625.3 1170.7h1.3M631.1 1271.0h1.3M628.1 988.4h1.3M631.4 1193.8h1.3M629.3 1062.8h1.3M627.8 993.9h1.3M622.0 1292.1h1.3M621.2 1295.9h1.3M622.8 1064.6h1.3M622.6 1263.8h1.3M627.3 958.7h1.3M634.4 1148.0h1.3M626.3 1076.0h1.3M624.6 1210.2h1.3M622.3 1218.4h1.3M632.0 1132.1h1.3M623.3 931.9h1.3M633.5 1034.3h1.3M624.0 1019.7h1.3M625.5 1298.3h1.3M631.9 930.7h1.3M622.9 1124.2h1.3M622.9 1079.1h1.3M628.5 1094.2h1.3M631.9 1305.4h1.3M629.2 958.0h1.3M632.8 1110.7h1.3M632.8 929.1h1.3M629.3 1087.7h1.3M622.3 1009.7h1.3M633.2 1057.0h1.3M629.0 1164.6h1.3M624.1 963.4h1.3M623.7 1205.1h1.3M621.4 1231.6h1.3M623.7 1207.2h1.3M630.8 1016.4h1.3M626.7 979.2h1.3M632.5 1262.6h1.3M631.3 936.0h1.3M625.6 999.0h1.3M625.5 1275.2h1.3M631.7 1085.2h1.3M625.1 1117.1h1.3M627.8 1065.5h1.3M624.7 1285.5h1.3M620.3 1065.6h1.3M625.3 1019.5h1.3M629.0 1116.5h1.3M630.1 1011.7h1.3M621.7 1163.9h1.3M622.6 934.2h1.3M632.0 944.3h1.3M633.8 1095.3h1.3M629.5 1336.3h1.3M625.8 1323.7h1.3M632.7 1160.6h1.3M622.2 1039.9h1.3M630.3 1218.8h1.3M629.3 962.1h1.3M633.0 1016.8h1.3M626.9 1122.5h1.3M620.3 1278.7h1.3M630.1 1326.4h1.3M627.1 1132.6h1.3M626.8 1131.2h1.3M626.1 1147.4h1.3M629.2 1121.3h1.3M629.6 981.0h1.3M627.5 1142.3h1.3M624.5 1079.5h1.3M629.4 1097.3h1.3M629.4 1193.8h1.3M624.5 1211.8h1.3M625.8 1031.1h1.3M627.3 1275.4h1.3M631.3 1085.2h1.3M634.3 1054.9h1.3M625.1 1298.2h1.3M629.5 1258.7h1.3M625.1 1063.8h1.3M633.9 1151.2h1.3M622.1 1090.6h1.3M630.1 1015.7h1.3M632.1 1208.2h1.3M622.6 1056.7h1.3M628.0 976.4h1.3M624.6 1011.9h1.3M628.5 1319.0h1.3M630.6 1147.6h1.3M625.3 1310.8h1.3M627.9 938.7h1.3M631.0 1029.0h1.3M621.8 918.0h1.3M628.3 1058.1h1.3M624.6 1282.8h1.3M634.4 969.5h1.3M629.7 958.6h1.3M628.3 1333.2h1.3M628.0 968.5h1.3M632.7 1227.7h1.3M622.1 1282.1h1.3M632.4 1266.0h1.3M633.3 1163.6h1.3M622.8 1180.8h1.3M622.9 1264.5h1.3M623.3 1046.8h1.3M629.5 994.7h1.3M625.4 1103.5h1.3M623.3 1218.1h1.3M632.4 1213.4h1.3M620.8 1218.0h1.3M624.6 1119.2h1.3M625.1 969.9h1.3M629.6 1028.8h1.3M627.6 1070.3h1.3M626.4 1112.9h1.3M634.1 1300.0h1.3M632.4 985.7h1.3M626.9 1011.5h1.3M624.4 997.2h1.3M623.7 1040.0h1.3M623.0 1215.1h1.3M628.4 1274.9h1.3M634.2 1036.7h1.3M622.6 987.7h1.3M625.3 1260.3h1.3M632.6 1114.8h1.3M621.2 984.5h1.3M625.5 1126.9h1.3M634.2 1230.4h1.3M627.3 930.5h1.3M628.2 1066.4h1.3M631.7 1238.3h1.3M631.6 999.7h1.3M625.0 1227.2h1.3M627.6 1122.6h1.3M625.6 1082.4h1.3M629.6 1268.4h1.3M631.1 1025.9h1.3M621.2 1188.9h1.3M632.9 1054.1h1.3M633.0 1035.9h1.3M621.7 930.6h1.3" stroke="#7a7a7a" stroke-width="1.3" fill="none"/>
<path d="M617.90 914.25h18.60" stroke="#1c1c1c" stroke-width="1.5"/>
<rect x="636.00" y="1125.60" width="17.60" height="220.70" fill="#4b4b4b" stroke="#2b2b2b" stroke-width="1.2"/>
<path d="M635.50 1125.60h18.60" stroke="#1c1c1c" stroke-width="1.8"/>
<rect x="677.20" y="1055.50" width="17.60" height="290.80" fill="#fff"/>
<path d="M677.2 1058.1h11.1M677.2 1061.6h17.6M677.2 1065.1h12.2M677.2 1069.3h10.9M677.2 1074.1h17.6M677.2 1076.7h17.6M677.2 1080.2h17.6M685.0 1083.4h9.8M685.6 1087.2h9.2M677.2 1092.0h17.6M677.2 1096.2h17.6M686.2 1099.1h8.6M685.0 1103.3h9.8M677.2 1107.5h17.6M684.1 1112.3h10.7M677.2 1115.8h10.1M677.2 1119.0h17.6M677.2 1122.2h17.6M677.2 1124.8h10.9M686.9 1128.3h7.9M677.2 1132.1h9.3M677.2 1136.3h8.6M677.2 1141.1h17.6M677.2 1145.9h17.6M677.2 1149.7h17.6M677.2 1153.9h9.0M677.2 1156.5h17.6M677.2 1160.0h17.6M677.2 1163.2h8.8M677.2 1166.1h17.6M677.2 1168.7h17.6M677.2 1171.3h17.6M677.2 1174.5h17.6M677.2 1178.7h10.2M677.2 1182.9h17.6M677.2 1186.1h17.6M682.7 1189.0h12.1M677.2 1192.8h12.2M677.2 1196.6h9.8M677.2 1199.2h17.6M686.1 1203.4h8.7M677.2 1207.6h17.6M686.5 1210.2h8.3M677.2 1213.1h9.5M677.2 1216.0h17.6M677.2 1218.9h17.6M682.6 1222.1h12.2M686.7 1226.3h8.1M677.2 1229.8h17.6M677.2 1232.4h17.6M684.6 1235.9h10.2M686.0 1240.7h8.8M677.2 1244.5h17.6M677.2 1247.1h17.6M683.1 1249.7h11.7M684.0 1252.3h10.8M677.2 1254.9h17.6M677.2 1257.8h8.3M677.2 1261.3h17.6M677.2 1266.1h8.5M677.2 1269.6h17.6M677.2 1272.5h17.6M684.8 1275.4h10.0M677.2 1278.3h17.6M677.2 1282.1h17.6M686.0 1286.3h8.8M677.2 1290.1h17.6M677.2 1293.0h17.6M677.2 1296.2h17.6M677.2 1298.8h17.6M683.2 1302.0h11.6M677.2 1306.8h9.5M677.2 1310.3h17.6M677.2 1315.1h17.6M686.6 1319.3h8.2M677.2 1322.2h17.6M677.2 1324.8h17.6M677.2 1328.0h17.6M686.0 1331.8h8.8M677.2 1335.0h8.1M683.0 1337.9h11.8M677.2 1341.1h8.9M681.1 1058.1V1073.7M681.1 1075.0V1090.6M681.1 1094.4V1114.6M681.1 1117.1V1126.4M681.1 1129.6V1147.2M681.1 1150.1V1160.1M681.1 1161.0V1182.7M681.1 1185.4V1206.7M681.1 1221.2V1229.5M681.1 1252.7V1273.6M681.1 1327.2V1345.6M684.6 1055.7V1061.2M684.6 1063.1V1084.2M684.6 1088.7V1100.5M684.6 1116.3V1123.1M684.6 1123.3V1133.5M684.6 1134.9V1146.0M684.6 1150.0V1159.2M684.6 1178.1V1184.8M684.6 1186.2V1196.5M684.6 1197.2V1204.8M684.6 1205.3V1223.0M684.6 1223.5V1243.1M684.6 1272.0V1288.1M684.6 1288.3V1297.5M684.6 1317.0V1327.7M684.6 1328.9V1341.6M688.1 1078.2V1097.7M688.1 1098.7V1104.1M688.1 1139.7V1156.9M688.1 1171.2V1185.2M688.1 1214.3V1229.4M688.1 1234.3V1250.4M688.1 1255.3V1264.4M688.1 1265.1V1271.3M688.1 1273.3V1295.3M688.1 1299.3V1319.3M688.1 1322.6V1344.0M688.1 1345.6V1346.3M691.5 1061.1V1082.4M691.5 1085.7V1096.6M691.5 1096.8V1107.4M691.5 1108.9V1127.6M691.5 1127.6V1149.2M691.5 1151.0V1169.0M691.5 1171.5V1181.0M691.5 1217.9V1229.7M691.5 1233.2V1238.3M691.5 1238.8V1259.7M691.5 1259.8V1266.7M691.5 1269.8V1280.7M691.5 1282.4V1303.0M691.5 1320.4V1326.5M691.5 1329.2V1344.1" stroke="#222" stroke-width="1.25" fill="none"/>
<rect x="677.20" y="1055.50" width="17.60" height="290.80" fill="none" stroke="#1c1c1c" stroke-width="1.5"/>
<path d="M676.60 1055.50h18.80" stroke="#1c1c1c" stroke-width="1.8"/>
<path d="M677.20 1053.60h17.60M686.00 1053.60V1055.50" stroke="#333" stroke-width="0.8" fill="none"/>
<rect x="694.80" y="1042.50" width="17.60" height="303.80" fill="url(#hatch)" stroke="#1c1c1c" stroke-width="1.1"/>
<path d="M694.30 1042.50h18.60" stroke="#1c1c1c" stroke-width="1.6"/>
<rect x="712.40" y="913.75" width="17.60" height="432.55" fill="#fdfdfd" stroke="#262626" stroke-width="1.2"/>
<path d="M721.6 1041.3h1.3M719.3 1170.1h1.3M727.8 1056.1h1.3M717.5 1171.4h1.3M717.0 1205.0h1.3M716.0 1097.1h1.3M719.5 1337.7h1.3M725.9 1285.8h1.3M717.0 1080.1h1.3M714.9 1016.1h1.3M726.7 945.3h1.3M723.3 1227.1h1.3M716.6 1135.0h1.3M724.5 1312.3h1.3M718.8 1134.3h1.3M719.9 1216.5h1.3M715.0 1223.7h1.3M715.1 1281.9h1.3M715.4 981.8h1.3M722.5 971.4h1.3M720.3 1159.9h1.3M718.9 922.9h1.3M723.8 1188.8h1.3M718.4 1228.7h1.3M716.3 1326.4h1.3M728.1 1119.6h1.3M718.2 1185.2h1.3M723.8 1007.7h1.3M719.1 1343.8h1.3M721.4 1119.9h1.3M723.8 1277.7h1.3M716.5 981.0h1.3M720.7 1097.9h1.3M719.6 1175.8h1.3M719.5 935.5h1.3M718.6 1280.3h1.3M727.6 1038.4h1.3M721.1 930.6h1.3M717.8 1105.1h1.3M718.7 1052.5h1.3M720.8 1178.1h1.3M720.6 1250.9h1.3M727.8 1287.4h1.3M722.1 1072.2h1.3M728.0 917.4h1.3M721.6 969.5h1.3M722.5 1309.2h1.3M724.6 960.6h1.3M714.9 1184.8h1.3M717.1 1065.3h1.3M717.4 1261.3h1.3M721.9 931.9h1.3M723.2 1070.7h1.3M724.2 1084.8h1.3M727.2 1242.7h1.3M726.7 1156.3h1.3M726.0 993.9h1.3M725.3 1236.0h1.3M724.7 1057.3h1.3M723.5 1323.8h1.3M717.3 1308.8h1.3M722.7 1078.9h1.3M718.5 1240.7h1.3M728.4 978.6h1.3M719.1 1229.5h1.3M719.6 1015.1h1.3M725.4 1134.9h1.3M722.6 936.3h1.3M719.5 915.8h1.3M724.9 1017.7h1.3M722.8 953.9h1.3M721.9 1173.5h1.3M725.2 1297.6h1.3M722.9 1284.9h1.3M714.8 1200.3h1.3M717.4 1164.8h1.3M721.0 1063.5h1.3M717.8 1232.4h1.3M727.8 986.9h1.3M725.8 1239.2h1.3M719.4 1262.0h1.3M727.9 1249.3h1.3M722.5 1280.2h1.3M727.6 1252.6h1.3M714.9 971.9h1.3M723.8 999.9h1.3M726.1 1209.5h1.3M721.3 1158.6h1.3M717.2 1008.5h1.3M718.5 1340.1h1.3M720.8 1330.8h1.3M727.4 1001.0h1.3M717.1 981.9h1.3M717.6 1282.2h1.3M720.5 1007.8h1.3M720.8 1302.9h1.3M722.4 1209.7h1.3M717.8 1310.4h1.3M716.7 1042.2h1.3M722.3 1190.2h1.3M718.9 976.7h1.3M722.5 1080.6h1.3M724.1 1095.9h1.3M725.5 972.8h1.3M725.5 1265.6h1.3M719.6 1136.8h1.3M727.2 1334.4h1.3M722.7 918.0h1.3M727.5 1232.8h1.3M718.9 1079.3h1.3M723.4 931.8h1.3M727.9 964.2h1.3M717.6 1206.0h1.3M725.0 1109.9h1.3M724.9 1264.6h1.3M719.7 1090.9h1.3M723.9 1009.3h1.3M723.0 983.9h1.3M720.8 1344.8h1.3M715.9 1343.3h1.3M716.7 1042.1h1.3M723.0 1196.1h1.3M727.1 1045.9h1.3M718.7 1104.5h1.3M727.2 1331.6h1.3M725.7 1168.3h1.3M715.4 1331.9h1.3M726.2 1127.6h1.3M727.7 1269.0h1.3M721.3 918.9h1.3M723.3 1027.9h1.3M716.7 1275.8h1.3M726.1 1125.0h1.3M720.8 987.5h1.3M722.0 1015.5h1.3M716.8 1240.8h1.3M715.6 1047.4h1.3M724.7 983.8h1.3M720.2 924.2h1.3M717.7 1298.6h1.3M720.0 1243.1h1.3M714.6 1040.8h1.3M715.7 1336.7h1.3M717.0 1144.6h1.3M728.0 1075.9h1.3M714.3 1058.2h1.3M717.0 1014.3h1.3M720.7 1146.1h1.3M725.2 1120.8h1.3M720.6 1284.3h1.3M720.7 1267.6h1.3M717.0 1062.2h1.3M715.4 1114.0h1.3M725.4 1120.0h1.3M722.5 1057.6h1.3M714.9 974.6h1.3M725.5 1172.1h1.3M714.5 1282.9h1.3M718.4 1270.0h1.3M725.5 1132.3h1.3M718.2 1157.3h1.3M719.6 1246.4h1.3M722.1 1051.1h1.3M721.4 950.4h1.3M716.4 1167.3h1.3M718.8 1137.1h1.3M726.9 1221.5h1.3M723.7 940.7h1.3M723.7 1255.9h1.3M722.7 1030.5h1.3M715.2 1182.3h1.3M722.1 1338.5h1.3M718.2 1009.6h1.3M719.8 1336.1h1.3M724.3 1042.7h1.3M715.6 1177.9h1.3M720.3 1292.9h1.3M719.1 1255.9h1.3M722.1 1096.1h1.3M720.9 992.0h1.3M716.5 1034.8h1.3M725.2 1310.0h1.3M721.5 980.8h1.3M714.2 1105.1h1.3M722.9 1236.4h1.3M722.4 1266.6h1.3M728.0 1146.7h1.3M726.8 1080.4h1.3M719.5 954.0h1.3M727.1 1311.4h1.3M723.3 1018.5h1.3M715.8 971.6h1.3M723.9 923.9h1.3M723.5 1230.9h1.3M720.7 1251.2h1.3M714.8 1090.8h1.3M714.1 1289.0h1.3M719.7 953.8h1.3M719.9 1097.3h1.3M716.5 977.2h1.3M715.5 1239.2h1.3M727.1 1043.6h1.3M718.7 1344.7h1.3M715.2 1106.1h1.3M720.3 961.0h1.3M720.9 929.8h1.3M728.0 932.8h1.3M720.0 1330.6h1.3M722.8 1153.7h1.3M719.1 1098.2h1.3M727.8 1296.8h1.3M728.5 1004.4h1.3M714.2 1001.1h1.3M721.6 1060.0h1.3M726.2 1315.3h1.3M718.3 1290.4h1.3M718.9 1261.1h1.3M719.8 1082.4h1.3M726.1 1057.9h1.3M719.7 1050.5h1.3M721.6 1149.3h1.3M726.1 1297.5h1.3M722.9 1327.7h1.3M728.3 1232.4h1.3M726.2 1216.9h1.3M714.6 1329.2h1.3M722.1 954.6h1.3M726.2 985.9h1.3M715.2 970.2h1.3M718.2 1152.3h1.3" stroke="#7a7a7a" stroke-width="1.3" fill="none"/>
<path d="M711.90 913.75h18.60" stroke="#1c1c1c" stroke-width="1.5"/>
<rect x="730.00" y="1187.00" width="17.60" height="159.30" fill="#4b4b4b" stroke="#2b2b2b" stroke-width="1.2"/>
<path d="M729.50 1187.00h18.60" stroke="#1c1c1c" stroke-width="1.8"/>
<rect x="771.00" y="1061.00" width="17.60" height="285.30" fill="#fff"/>
<path d="M778.1 1064.2h10.5M771.0 1067.1h10.6M771.0 1069.7h17.6M779.4 1073.9h9.2M778.0 1077.1h10.6M771.0 1081.9h10.2M778.4 1085.4h10.2M771.0 1090.2h17.6M771.0 1094.4h17.6M778.3 1097.0h10.3M771.0 1100.8h17.6M771.0 1104.3h17.6M771.0 1107.2h8.4M771.0 1110.7h17.6M771.0 1114.9h17.6M778.6 1118.4h10.0M771.0 1121.9h17.6M778.4 1124.5h10.2M780.0 1129.3h8.6M779.3 1132.8h9.3M771.0 1137.0h9.0M771.0 1139.9h17.6M771.0 1142.5h17.6M771.0 1146.7h11.6M779.8 1149.3h8.8M771.0 1152.2h10.6M771.0 1154.8h17.6M771.0 1158.0h10.4M771.0 1161.2h17.6M771.0 1165.0h17.6M777.4 1169.8h11.2M778.7 1173.3h9.9M771.0 1178.1h17.6M777.4 1181.0h11.2M776.6 1183.9h12.0M771.0 1187.7h17.6M771.0 1190.3h17.6M771.0 1195.1h12.2M771.0 1198.6h17.6M771.0 1201.5h10.1M771.0 1205.0h10.8M780.5 1208.5h8.1M771.0 1212.3h17.6M771.0 1217.1h17.6M780.1 1220.3h8.5M771.0 1223.2h17.6M776.9 1226.1h11.7M771.0 1229.3h17.6M780.2 1233.5h8.4M771.0 1237.3h17.6M771.0 1240.8h17.6M771.0 1245.0h17.6M771.0 1248.8h17.6M780.6 1252.0h8.0M771.0 1254.9h17.6M771.0 1259.1h17.6M771.0 1263.3h17.6M771.0 1265.9h17.6M771.0 1269.1h17.6M777.7 1273.9h10.9M777.9 1276.8h10.7M771.0 1280.3h17.6M780.1 1283.2h8.5M771.0 1285.8h17.6M771.0 1288.4h17.6M771.0 1292.6h17.6M771.0 1296.1h17.6M771.0 1300.9h17.6M771.0 1304.1h17.6M771.0 1306.7h17.6M771.0 1309.9h17.6M771.0 1313.4h17.6M779.9 1316.0h8.7M771.0 1319.5h11.0M771.0 1323.0h17.6M771.0 1326.5h17.6M771.0 1330.7h17.6M771.0 1333.3h17.6M779.9 1336.8h8.7M771.0 1339.4h17.6M780.0 1344.2h8.6M774.9 1066.1V1082.6M774.9 1083.1V1093.8M774.9 1106.4V1114.1M774.9 1114.7V1125.7M774.9 1129.4V1143.2M774.9 1146.5V1162.1M774.9 1173.7V1182.1M774.9 1183.2V1205.1M774.9 1215.4V1236.9M774.9 1245.1V1261.0M774.9 1265.7V1286.6M774.9 1291.0V1300.0M774.9 1300.8V1311.8M774.9 1324.0V1338.7M778.4 1065.2V1075.0M778.4 1076.9V1098.3M778.4 1121.1V1137.8M778.4 1142.6V1164.5M778.4 1164.8V1173.3M778.4 1196.2V1214.6M778.4 1214.8V1221.2M778.4 1225.9V1241.9M778.4 1242.8V1258.1M778.4 1262.3V1267.5M778.4 1268.2V1275.1M778.4 1279.1V1297.4M778.4 1302.0V1323.9M781.9 1063.6V1083.9M781.9 1087.8V1107.7M781.9 1140.2V1161.0M781.9 1174.1V1187.7M781.9 1190.9V1211.3M781.9 1213.4V1231.0M781.9 1231.1V1237.9M781.9 1257.5V1268.8M781.9 1286.0V1299.6M781.9 1304.5V1319.3M781.9 1336.0V1346.3M785.3 1063.9V1072.8M785.3 1098.0V1110.4M785.3 1112.1V1117.1M785.3 1121.7V1137.1M785.3 1141.5V1148.2M785.3 1151.1V1160.0M785.3 1161.8V1168.5M785.3 1186.5V1192.5M785.3 1194.6V1204.9M785.3 1205.9V1218.2M785.3 1263.0V1280.4M785.3 1305.9V1313.8M785.3 1315.9V1334.9" stroke="#222" stroke-width="1.25" fill="none"/>
<rect x="771.00" y="1061.00" width="17.60" height="285.30" fill="none" stroke="#1c1c1c" stroke-width="1.5"/>
<path d="M770.40 1061.00h18.80" stroke="#1c1c1c" stroke-width="1.8"/>
<rect x="788.60" y="1098.70" width="17.60" height="247.60" fill="url(#hatch)" stroke="#1c1c1c" stroke-width="1.1"/>
<path d="M788.10 1098.70h18.60" stroke="#1c1c1c" stroke-width="1.6"/>
<rect x="806.20" y="913.00" width="17.60" height="433.30" fill="#fdfdfd" stroke="#262626" stroke-width="1.2"/>
<path d="M808.5 1254.0h1.3M815.7 1177.8h1.3M812.9 1251.4h1.3M816.1 1210.0h1.3M817.1 1185.5h1.3M817.2 1286.5h1.3M817.0 1160.4h1.3M808.2 1181.4h1.3M816.4 989.2h1.3M809.9 1162.0h1.3M808.6 1032.2h1.3M817.7 1182.4h1.3M821.9 1339.0h1.3M817.1 1290.9h1.3M815.5 920.4h1.3M820.5 932.2h1.3M820.7 1020.3h1.3M822.2 937.1h1.3M815.3 1035.3h1.3M816.7 1292.1h1.3M815.6 1193.8h1.3M809.9 1110.7h1.3M821.1 1258.3h1.3M813.2 1291.7h1.3M813.6 1168.8h1.3M808.4 1114.6h1.3M810.1 1057.2h1.3M821.1 1339.2h1.3M815.4 1046.4h1.3M812.3 968.5h1.3M809.7 951.8h1.3M813.9 1266.9h1.3M817.8 956.2h1.3M820.3 1324.5h1.3M810.9 988.1h1.3M810.9 1343.0h1.3M810.3 1199.6h1.3M817.1 930.7h1.3M810.9 1289.3h1.3M812.2 1134.7h1.3M812.1 1122.9h1.3M818.9 1088.4h1.3M819.6 1001.2h1.3M813.5 1342.4h1.3M822.0 1332.7h1.3M813.8 1285.5h1.3M807.8 1023.9h1.3M812.0 1004.2h1.3M813.4 1065.1h1.3M811.1 994.7h1.3M808.1 954.6h1.3M813.5 1268.1h1.3M821.5 1045.8h1.3M819.7 1297.8h1.3M808.3 1005.8h1.3M810.6 967.0h1.3M815.6 1327.7h1.3M822.3 936.1h1.3M820.7 1335.1h1.3M815.2 1200.4h1.3M815.7 1332.4h1.3M820.5 1284.1h1.3M813.1 960.0h1.3M821.5 1062.7h1.3M809.0 1312.4h1.3M815.4 1343.6h1.3M822.2 1334.9h1.3M816.5 1065.8h1.3M815.2 1001.3h1.3M810.3 1237.8h1.3M818.7 1230.2h1.3M822.1 975.2h1.3M809.1 1279.8h1.3M809.9 1045.7h1.3M818.5 1047.6h1.3M810.5 1103.5h1.3M808.0 1312.0h1.3M820.0 1066.0h1.3M815.9 1091.6h1.3M816.0 1196.7h1.3M818.6 1201.3h1.3M813.8 1213.1h1.3M818.8 1155.5h1.3M817.4 998.9h1.3M818.9 1194.2h1.3M813.0 1213.0h1.3M815.2 1187.6h1.3M811.0 1100.3h1.3M818.6 986.4h1.3M818.3 959.4h1.3M817.2 1049.4h1.3M817.1 1089.2h1.3M807.9 989.7h1.3M821.4 1207.0h1.3M809.3 928.0h1.3M811.3 924.5h1.3M819.4 942.5h1.3M816.9 1074.2h1.3M819.0 1175.9h1.3M814.8 1255.0h1.3M818.5 976.2h1.3M811.6 1094.9h1.3M815.2 1190.1h1.3M814.6 1064.8h1.3M819.5 1067.3h1.3M808.9 1088.2h1.3M818.8 1305.1h1.3M818.3 1249.1h1.3M821.5 1261.2h1.3M809.1 1311.3h1.3M817.9 1229.9h1.3M814.3 1328.5h1.3M815.7 1094.6h1.3M811.3 1129.2h1.3M811.1 1292.7h1.3M812.4 1253.6h1.3M807.9 1291.7h1.3M816.4 1103.4h1.3M819.4 982.1h1.3M809.9 1268.6h1.3M818.0 1116.9h1.3M811.6 1271.9h1.3M808.8 1187.6h1.3M821.7 1219.5h1.3M812.2 1003.4h1.3M817.4 1002.2h1.3M808.4 1314.8h1.3M807.8 1206.0h1.3M817.7 1042.3h1.3M811.9 1329.6h1.3M817.1 919.1h1.3M817.2 1341.2h1.3M818.8 978.5h1.3M814.7 1186.8h1.3M811.9 1005.8h1.3M814.4 969.3h1.3M810.1 976.3h1.3M814.4 1084.2h1.3M818.1 1157.1h1.3M815.6 1338.6h1.3M817.0 919.5h1.3M815.3 1021.5h1.3M821.2 1048.5h1.3M814.8 1210.7h1.3M815.9 1046.2h1.3M813.9 1013.5h1.3M820.9 1025.0h1.3M808.2 920.5h1.3M814.7 1179.5h1.3M808.9 1278.9h1.3M810.9 960.3h1.3M810.8 1248.1h1.3M819.8 1170.6h1.3M810.0 1142.1h1.3M818.3 1252.7h1.3M808.4 1204.5h1.3M815.2 1076.6h1.3M817.9 1172.2h1.3M820.4 1208.8h1.3M821.0 1203.5h1.3M820.9 979.3h1.3M813.4 1274.5h1.3M818.7 1135.4h1.3M821.0 979.7h1.3M819.7 1207.8h1.3M814.6 1031.9h1.3M810.5 1117.5h1.3M817.9 1098.4h1.3M818.5 1066.5h1.3M809.1 1133.3h1.3M808.0 1341.9h1.3M811.7 1216.5h1.3M819.7 1003.3h1.3M818.7 1022.2h1.3M818.8 1082.1h1.3M813.7 1286.3h1.3M810.9 1157.6h1.3M810.5 916.8h1.3M814.6 1180.9h1.3M818.2 921.7h1.3M809.8 944.5h1.3M819.6 1163.8h1.3M821.5 1172.4h1.3M819.0 944.4h1.3M812.9 916.1h1.3M812.9 1306.6h1.3M808.4 1192.6h1.3M816.7 1291.5h1.3M809.5 1020.1h1.3M818.2 1261.9h1.3M818.4 1074.6h1.3M818.1 972.1h1.3M815.8 1170.7h1.3M808.6 1180.1h1.3M813.8 1123.0h1.3M818.4 1067.0h1.3M811.8 985.8h1.3M807.8 1033.2h1.3M815.5 1176.8h1.3M809.9 1131.8h1.3M808.2 1027.4h1.3M817.9 1164.9h1.3M816.6 1321.3h1.3M812.8 1315.8h1.3M809.1 1244.5h1.3M822.1 1205.6h1.3M820.1 1114.1h1.3M810.9 1128.7h1.3M820.1 1294.0h1.3M809.7 1185.5h1.3M820.5 1282.6h1.3M815.8 1330.8h1.3M822.2 915.9h1.3M821.3 992.3h1.3M819.0 1199.1h1.3M812.1 1219.8h1.3M807.9 1089.3h1.3M815.2 1198.2h1.3M808.0 1101.3h1.3M808.3 967.6h1.3M819.9 1010.9h1.3M817.5 950.3h1.3M809.3 935.5h1.3M807.7 1127.3h1.3M817.1 1117.2h1.3M808.4 974.6h1.3M817.2 1340.1h1.3M807.9 954.6h1.3M810.0 1034.9h1.3M808.9 914.8h1.3M820.4 948.7h1.3" stroke="#7a7a7a" stroke-width="1.3" fill="none"/>
<path d="M805.70 913.00h18.60" stroke="#1c1c1c" stroke-width="1.5"/>
<path d="M806.20 911.10h17.60M815.00 911.10V913.00" stroke="#333" stroke-width="0.8" fill="none"/>
<rect x="823.80" y="1019.25" width="17.60" height="327.05" fill="#4b4b4b" stroke="#2b2b2b" stroke-width="1.2"/>
<path d="M823.30 1019.25h18.60" stroke="#1c1c1c" stroke-width="1.8"/>
<path d="M823.80 1017.35h17.60M832.60 1017.35V1019.25" stroke="#333" stroke-width="0.8" fill="none"/>
<rect x="865.20" y="1028.00" width="17.60" height="318.30" fill="#fff"/>
<path d="M871.1 1031.1h11.7M865.2 1034.3h17.6M865.2 1037.2h9.8M865.2 1041.4h10.4M872.7 1044.6h10.1M865.2 1048.4h17.6M865.2 1052.6h10.6M871.3 1056.8h11.5M865.2 1060.6h17.6M865.2 1064.1h17.6M865.2 1067.0h17.6M871.2 1071.8h11.6M865.2 1076.6h17.6M872.7 1081.4h10.1M865.2 1084.9h17.6M870.7 1088.4h12.1M865.2 1091.0h17.6M865.2 1095.8h17.6M865.2 1098.4h17.6M870.6 1102.6h12.2M865.2 1106.8h17.6M865.2 1109.4h17.6M865.2 1112.9h17.6M865.2 1116.1h17.6M865.2 1118.7h17.6M865.2 1122.2h17.6M865.2 1127.0h8.9M865.2 1131.2h17.6M865.2 1133.8h17.6M873.8 1136.4h9.0M865.2 1140.6h17.6M865.2 1144.8h8.4M865.2 1149.0h12.2M865.2 1153.2h17.6M865.2 1157.0h17.6M865.2 1160.5h17.6M865.2 1164.7h17.6M871.1 1167.9h11.7M865.2 1171.1h17.6M873.2 1174.9h9.6M865.2 1178.1h17.6M865.2 1182.9h9.3M865.2 1185.5h17.6M865.2 1190.3h17.6M870.7 1194.5h12.1M865.2 1197.7h17.6M865.2 1202.5h17.6M865.2 1206.3h17.6M865.2 1209.5h17.6M873.5 1213.7h9.3M865.2 1217.2h17.6M865.2 1221.0h10.3M874.2 1225.8h8.6M865.2 1228.7h17.6M874.7 1232.9h8.1M865.2 1235.5h17.6M872.7 1239.7h10.1M865.2 1243.9h17.6M865.2 1248.1h17.6M865.2 1252.3h17.6M865.2 1254.9h17.6M865.2 1257.5h17.6M865.2 1260.1h8.6M865.2 1264.9h17.6M870.9 1268.1h11.9M865.2 1271.9h17.6M865.2 1276.1h17.6M865.2 1279.9h17.6M865.2 1283.1h17.6M865.2 1286.3h11.9M873.7 1289.2h9.1M865.2 1293.4h17.6M865.2 1296.9h17.6M865.2 1301.1h11.8M865.2 1305.3h17.6M865.2 1307.9h17.6M865.2 1311.1h17.6M865.2 1314.3h17.6M865.2 1318.1h11.2M865.2 1320.7h17.6M865.2 1324.2h10.0M871.8 1328.4h11.0M865.2 1332.6h17.6M865.2 1335.2h17.6M865.2 1339.0h17.6M865.2 1342.8h9.5M869.1 1028.1V1042.6M869.1 1064.4V1083.8M869.1 1087.7V1092.8M869.1 1118.0V1129.3M869.1 1133.5V1154.8M869.1 1157.9V1177.1M869.1 1212.5V1229.9M869.1 1234.9V1253.6M869.1 1283.1V1296.9M869.1 1317.1V1334.3M869.1 1339.0V1346.3M872.6 1031.6V1046.2M872.6 1050.2V1056.4M872.6 1061.0V1067.4M872.6 1068.1V1078.2M872.6 1093.0V1101.8M872.6 1105.1V1114.5M872.6 1115.1V1121.8M872.6 1122.1V1141.5M872.6 1146.1V1155.5M872.6 1172.8V1187.2M872.6 1189.4V1209.1M872.6 1209.4V1216.9M872.6 1217.9V1237.0M872.6 1240.9V1248.8M872.6 1252.5V1260.3M872.6 1272.6V1288.4M872.6 1292.3V1300.0M872.6 1316.9V1333.6M872.6 1336.2V1346.3M876.1 1032.3V1046.7M876.1 1046.8V1054.7M876.1 1055.6V1073.0M876.1 1077.0V1091.5M876.1 1093.4V1101.8M876.1 1104.2V1117.5M876.1 1117.8V1130.6M876.1 1149.4V1156.6M876.1 1157.4V1172.2M876.1 1173.1V1183.6M876.1 1187.7V1200.7M876.1 1202.2V1215.8M876.1 1217.3V1232.7M876.1 1246.8V1252.0M876.1 1253.5V1275.2M876.1 1276.3V1293.9M876.1 1294.6V1300.3M876.1 1304.1V1315.1M876.1 1315.2V1329.8M876.1 1331.2V1346.3M879.5 1028.1V1038.0M879.5 1062.2V1079.0M879.5 1082.1V1090.2M879.5 1099.4V1117.6M879.5 1133.9V1141.3M879.5 1143.8V1153.8M879.5 1155.7V1175.7M879.5 1180.2V1192.7M879.5 1195.6V1208.0M879.5 1210.2V1223.1M879.5 1245.1V1252.4M879.5 1255.7V1265.8M879.5 1289.7V1305.1M879.5 1332.6V1340.7M879.5 1343.2V1346.3" stroke="#222" stroke-width="1.25" fill="none"/>
<rect x="865.20" y="1028.00" width="17.60" height="318.30" fill="none" stroke="#1c1c1c" stroke-width="1.5"/>
<path d="M864.60 1028.00h18.80" stroke="#1c1c1c" stroke-width="1.8"/>
<rect x="882.80" y="1082.70" width="17.60" height="263.60" fill="url(#hatch)" stroke="#1c1c1c" stroke-width="1.1"/>
<path d="M882.30 1082.70h18.60" stroke="#1c1c1c" stroke-width="1.6"/>
<rect x="900.40" y="923.75" width="17.60" height="422.55" fill="#fdfdfd" stroke="#262626" stroke-width="1.2"/>
<path d="M911.3 1071.5h1.3M908.2 1028.2h1.3M910.4 949.1h1.3M912.1 1254.9h1.3M913.5 1177.7h1.3M911.5 1236.4h1.3M904.8 1061.3h1.3M911.8 1049.3h1.3M907.6 1216.0h1.3M902.9 1228.8h1.3M902.1 1003.9h1.3M910.6 1082.8h1.3M906.8 1275.2h1.3M914.4 1266.0h1.3M916.0 1279.6h1.3M903.3 948.9h1.3M914.9 1142.7h1.3M906.6 1294.1h1.3M911.8 1220.8h1.3M912.1 1168.3h1.3M911.8 969.1h1.3M903.2 1015.5h1.3M909.2 1091.5h1.3M908.4 974.3h1.3M910.2 1311.1h1.3M913.5 933.4h1.3M909.3 987.4h1.3M909.5 1328.1h1.3M913.9 1336.2h1.3M910.4 1109.1h1.3M912.7 1339.9h1.3M913.2 1248.1h1.3M916.5 1257.8h1.3M904.7 941.0h1.3M905.3 1071.3h1.3M903.0 980.1h1.3M905.0 1069.2h1.3M911.2 1203.9h1.3M909.8 958.3h1.3M910.2 1320.7h1.3M906.2 978.3h1.3M905.8 965.3h1.3M912.3 1301.8h1.3M906.6 1243.4h1.3M913.6 1174.8h1.3M910.8 1337.0h1.3M913.2 1055.6h1.3M903.0 1040.2h1.3M903.1 928.6h1.3M902.9 1146.9h1.3M909.1 1149.2h1.3M914.5 1318.5h1.3M909.6 1093.7h1.3M904.3 1013.4h1.3M908.4 1137.5h1.3M911.9 1139.8h1.3M904.8 1296.8h1.3M911.2 1109.7h1.3M907.8 1270.1h1.3M909.0 1201.4h1.3M911.6 1277.0h1.3M903.0 1191.9h1.3M903.9 1143.2h1.3M905.5 1150.6h1.3M910.8 1229.3h1.3M905.4 1151.0h1.3M905.9 1341.4h1.3M908.4 1335.3h1.3M910.9 957.2h1.3M916.3 1005.7h1.3M907.3 1317.3h1.3M905.0 1131.6h1.3M909.7 1168.4h1.3M914.4 1089.1h1.3M911.0 1060.1h1.3M909.3 1310.0h1.3M914.2 1283.3h1.3M902.2 1034.6h1.3M906.8 1170.7h1.3M903.3 1188.8h1.3M904.0 1197.5h1.3M905.3 1339.1h1.3M904.8 1116.9h1.3M913.9 1301.8h1.3M906.6 1071.2h1.3M909.6 1302.5h1.3M904.5 1198.3h1.3M915.3 1229.5h1.3M907.7 1306.2h1.3M912.2 1239.3h1.3M903.4 1093.6h1.3M910.2 1060.0h1.3M908.3 1106.0h1.3M913.1 1082.7h1.3M904.4 978.9h1.3M916.1 1252.1h1.3M902.5 1136.8h1.3M915.3 1101.2h1.3M915.1 1151.9h1.3M905.3 1159.7h1.3M906.8 1217.7h1.3M912.8 1134.3h1.3M904.8 1163.6h1.3M907.1 1020.6h1.3M907.8 939.3h1.3M909.2 1229.0h1.3M911.9 1302.2h1.3M909.9 1289.0h1.3M910.5 1242.4h1.3M909.7 1314.1h1.3M904.3 1261.0h1.3M904.0 1341.4h1.3M905.1 1086.2h1.3M903.6 1305.3h1.3M912.2 1036.7h1.3M905.3 1246.7h1.3M912.9 1116.9h1.3M904.5 955.2h1.3M913.0 1034.3h1.3M902.9 1309.4h1.3M909.8 1058.1h1.3M915.0 1012.2h1.3M909.9 1277.9h1.3M909.0 1332.7h1.3M910.1 944.1h1.3M907.7 957.1h1.3M908.6 1249.9h1.3M906.8 1082.7h1.3M904.3 1254.9h1.3M916.5 1107.3h1.3M914.1 943.3h1.3M904.7 1003.4h1.3M911.2 1068.8h1.3M906.1 1040.5h1.3M909.4 931.2h1.3M904.3 1055.4h1.3M904.0 1027.0h1.3M911.8 1215.8h1.3M906.8 1217.5h1.3M908.8 1089.0h1.3M915.1 1022.1h1.3M910.9 1293.9h1.3M915.0 1011.4h1.3M908.3 1203.0h1.3M905.8 1278.5h1.3M905.9 1054.8h1.3M906.8 1200.6h1.3M916.2 1308.8h1.3M905.3 1327.1h1.3M904.7 1058.6h1.3M909.2 1171.5h1.3M914.8 1005.6h1.3M914.1 1267.4h1.3M911.6 1116.8h1.3M903.4 1323.0h1.3M903.5 1139.5h1.3M906.9 1043.3h1.3M903.5 949.4h1.3M902.7 1024.0h1.3M903.1 1281.0h1.3M910.8 1132.8h1.3M903.8 1135.1h1.3M913.9 1261.1h1.3M914.7 1070.7h1.3M911.9 1270.6h1.3M902.7 967.0h1.3M904.0 1050.7h1.3M912.8 1339.6h1.3M907.6 1193.9h1.3M907.4 1068.0h1.3M904.5 1102.8h1.3M913.8 1288.2h1.3M902.3 1113.5h1.3M915.5 1049.7h1.3M913.3 1078.4h1.3M914.5 1270.9h1.3M908.2 1184.6h1.3M914.4 969.7h1.3M908.2 1080.9h1.3M905.2 1070.9h1.3M910.2 1139.7h1.3M906.8 1152.7h1.3M916.1 933.2h1.3M911.4 1165.2h1.3M903.2 1319.2h1.3M902.2 1319.5h1.3M907.4 1227.1h1.3M907.5 1236.3h1.3M911.3 1031.7h1.3M910.7 1324.1h1.3M904.3 1302.9h1.3M916.5 1193.3h1.3M914.3 1021.0h1.3M911.2 1098.5h1.3M903.2 1111.8h1.3M908.8 1076.1h1.3M911.5 1240.9h1.3M909.4 1163.8h1.3M912.7 1142.2h1.3M902.5 1335.1h1.3M912.3 1055.3h1.3M912.4 946.5h1.3M911.2 1003.0h1.3M906.4 1087.3h1.3M909.1 979.3h1.3M904.3 1076.6h1.3M904.7 1232.6h1.3M909.2 940.8h1.3M915.4 1120.0h1.3M914.7 1071.1h1.3M903.6 1089.0h1.3M908.0 1256.6h1.3M911.0 1181.2h1.3M906.9 1008.5h1.3M905.9 1260.8h1.3M914.4 1075.8h1.3M911.4 990.3h1.3M913.8 928.8h1.3M914.9 1176.4h1.3M905.9 963.4h1.3M902.1 1218.3h1.3M905.6 1212.1h1.3M904.0 1342.5h1.3M911.3 990.9h1.3M906.1 1178.5h1.3" stroke="#7a7a7a" stroke-width="1.3" fill="none"/>
<path d="M899.90 923.75h18.60" stroke="#1c1c1c" stroke-width="1.5"/>
<rect x="918.00" y="1015.00" width="17.60" height="331.30" fill="#4b4b4b" stroke="#2b2b2b" stroke-width="1.2"/>
<path d="M917.50 1015.00h18.60" stroke="#1c1c1c" stroke-width="1.8"/>
<path d="M918.00 1013.10h17.60M926.80 1013.10V1015.00" stroke="#333" stroke-width="0.8" fill="none"/>
<path d="M148.9 1063.2H995" stroke="#141414" stroke-width="1.4"/>
<path d="M148.9 778.9V1347.0" stroke="#1c1c1c" stroke-width="1.6" fill="none"/>
<path d="M140.6 1346.3H995" stroke="#1c1c1c" stroke-width="1.4" fill="none"/>
<path d="M140.6 779.50H148.9" stroke="#222" stroke-width="1.2"/>
<path d="M140.6 850.35H148.9" stroke="#222" stroke-width="1.2"/>
<path d="M140.6 921.20H148.9" stroke="#222" stroke-width="1.2"/>
<path d="M140.6 992.05H148.9" stroke="#222" stroke-width="1.2"/>
<path d="M140.6 1062.90H148.9" stroke="#222" stroke-width="1.2"/>
<path d="M140.6 1133.75H148.9" stroke="#222" stroke-width="1.2"/>
<path d="M140.6 1204.60H148.9" stroke="#222" stroke-width="1.2"/>
<path d="M140.6 1275.45H148.9" stroke="#222" stroke-width="1.2"/>
<path d="M243.25 1346.3V1355.2" stroke="#222" stroke-width="1.2"/>
<path d="M336.9 1346.3V1355.2" stroke="#222" stroke-width="1.2"/>
<path d="M430.8 1346.3V1355.2" stroke="#222" stroke-width="1.2"/>
<path d="M524.6 1346.3V1355.2" stroke="#222" stroke-width="1.2"/>
<path d="M618.7 1346.3V1355.2" stroke="#222" stroke-width="1.2"/>
<path d="M712.6 1346.3V1355.2" stroke="#222" stroke-width="1.2"/>
<path d="M806.6 1346.3V1355.2" stroke="#222" stroke-width="1.2"/>
<path d="M900.3 1346.3V1355.2" stroke="#222" stroke-width="1.2"/>
<text x="344.80" y="950.15" font-size="22" text-anchor="middle">*</text>
<text x="344.80" y="931.05" font-size="22" text-anchor="middle">*</text>
<text x="421.30" y="1003.65" font-size="22" text-anchor="middle">*</text>
<text x="421.30" y="984.55" font-size="22" text-anchor="middle">*</text>
<text x="438.90" y="826.55" font-size="22" text-anchor="middle">*</text>
<text x="438.90" y="807.45" font-size="22" text-anchor="middle">*</text>
<text x="456.50" y="1037.15" font-size="22" text-anchor="middle">*</text>
<text x="456.50" y="1018.05" font-size="22" text-anchor="middle">*</text>
<text x="497.90" y="982.65" font-size="22" text-anchor="middle">*</text>
<text x="497.90" y="963.55" font-size="22" text-anchor="middle">*</text>
<text x="515.50" y="926.90" font-size="22" text-anchor="middle">*</text>
<text x="515.50" y="907.80" font-size="22" text-anchor="middle">*</text>
<text x="533.10" y="934.65" font-size="22" text-anchor="middle">*</text>
<text x="533.10" y="915.55" font-size="22" text-anchor="middle">*</text>
<text x="626.40" y="916.90" font-size="22" text-anchor="middle">*</text>
<text x="626.40" y="897.80" font-size="22" text-anchor="middle">*</text>
<text x="685.20" y="1058.15" font-size="22" text-anchor="middle">*</text>
<text x="685.20" y="1039.05" font-size="22" text-anchor="middle">*</text>
<text x="702.80" y="1045.15" font-size="22" text-anchor="middle">*</text>
<text x="702.80" y="1026.05" font-size="22" text-anchor="middle">*</text>
<text x="720.40" y="916.40" font-size="22" text-anchor="middle">*</text>
<text x="720.40" y="897.30" font-size="22" text-anchor="middle">*</text>
<text x="779.00" y="1058.05" font-size="22" text-anchor="middle">*</text>
<text x="814.20" y="915.65" font-size="22" text-anchor="middle">*</text>
<text x="814.20" y="896.55" font-size="22" text-anchor="middle">*</text>
<text x="831.80" y="1021.90" font-size="22" text-anchor="middle">*</text>
<text x="831.80" y="1002.80" font-size="22" text-anchor="middle">*</text>
<text x="873.20" y="1030.65" font-size="22" text-anchor="middle">*</text>
<text x="873.20" y="1011.55" font-size="22" text-anchor="middle">*</text>
<text x="908.40" y="926.40" font-size="22" text-anchor="middle">*</text>
<text x="908.40" y="907.30" font-size="22" text-anchor="middle">*</text>
<text x="926.00" y="1017.65" font-size="22" text-anchor="middle">*</text>
<text x="926.00" y="998.55" font-size="22" text-anchor="middle">*</text>
<text x="128.6" y="787.40" font-size="24.5" text-anchor="end">10000</text>
<text x="128.6" y="858.25" font-size="24.5" text-anchor="end">1000</text>
<text x="128.6" y="929.10" font-size="24.5" text-anchor="end">100</text>
<text x="128.6" y="999.95" font-size="24.5" text-anchor="end">10</text>
<text x="128.6" y="1070.80" font-size="24.5" text-anchor="end">1</text>
<text x="128.6" y="1141.65" font-size="24.5" text-anchor="end">0.1</text>
<text x="128.6" y="1212.50" font-size="24.5" text-anchor="end">0.01</text>
<text x="128.6" y="1283.35" font-size="24.5" text-anchor="end">0.001</text>
<text x="128.6" y="1354.20" font-size="24.5" text-anchor="end">0.0001</text>
<text x="233.00" y="1388.8" font-size="24.5" text-anchor="middle">Control (0)</text>
<text x="335.50" y="1388.8" font-size="24.5" text-anchor="middle">2</text>
<text x="429.40" y="1388.8" font-size="24.5" text-anchor="middle">6</text>
<text x="523.20" y="1388.8" font-size="24.5" text-anchor="middle">12</text>
<text x="617.30" y="1388.8" font-size="24.5" text-anchor="middle">24</text>
<text x="711.20" y="1388.8" font-size="24.5" text-anchor="middle">48</text>
<text x="805.20" y="1388.8" font-size="24.5" text-anchor="middle">72</text>
<text x="898.90" y="1388.8" font-size="24.5" text-anchor="middle">96</text>
<text x="572" y="1418.6" font-size="24.5" text-anchor="middle">Hours after inoculation</text>
<text transform="translate(556.6,776.2) scale(1.03,1)" font-size="25.6" font-style="italic" text-anchor="middle">CaNBS-LRR</text>
<text x="209.4" y="796.8" font-size="24.5" text-anchor="middle">(b)</text>
<text transform="translate(52,1062.3) rotate(-90)" font-size="24.5" text-anchor="middle">Relative expression (Log10 RQ)</text>
<rect x="90.8" y="1471.9" width="49.5" height="16.3" fill="#333" stroke="#2a2a2a" stroke-width="1.8"/>
<rect x="93.1" y="1473.9" width="1.9" height="12.3" fill="#f4f4f4"/><rect x="96.4" y="1473.9" width="1.9" height="12.3" fill="#f4f4f4"/><rect x="99.7" y="1473.9" width="1.9" height="12.3" fill="#f4f4f4"/><rect x="103.4" y="1473.9" width="1.9" height="12.3" fill="#f4f4f4"/><rect x="107.1" y="1473.9" width="1.3" height="12.3" fill="#f4f4f4"/><rect x="110.4" y="1473.9" width="2.5" height="8.7" fill="#f6f6f6"/><rect x="110.4" y="1484.3" width="2.5" height="1.5" fill="#f0f0f0"/><rect x="113.4" y="1473.9" width="1.9" height="8.7" fill="#f6f6f6"/><rect x="113.4" y="1484.3" width="1.9" height="1.5" fill="#f0f0f0"/><rect x="116.9" y="1473.9" width="2.8" height="8.7" fill="#f6f6f6"/><rect x="116.9" y="1484.3" width="2.8" height="1.5" fill="#f0f0f0"/><rect x="120.6" y="1473.9" width="1.3" height="8.7" fill="#f6f6f6"/><rect x="120.6" y="1484.3" width="1.3" height="1.5" fill="#f0f0f0"/><rect x="124.6" y="1473.9" width="2.2" height="8.7" fill="#f6f6f6"/><rect x="124.6" y="1484.3" width="2.2" height="1.5" fill="#f0f0f0"/><rect x="127.9" y="1473.9" width="1.3" height="8.7" fill="#f6f6f6"/><rect x="127.9" y="1484.3" width="1.3" height="1.5" fill="#f0f0f0"/><rect x="131.6" y="1473.9" width="2.5" height="8.7" fill="#f6f6f6"/><rect x="131.6" y="1484.3" width="2.5" height="1.5" fill="#f0f0f0"/><rect x="134.6" y="1473.9" width="1.3" height="8.7" fill="#f6f6f6"/><rect x="134.6" y="1484.3" width="1.3" height="1.5" fill="#f0f0f0"/><rect x="137.6" y="1473.9" width="1.3" height="8.7" fill="#f6f6f6"/><rect x="137.6" y="1484.3" width="1.3" height="1.5" fill="#f0f0f0"/>
<clipPath id="lc"><rect x="253.1" y="1471.9" width="49.1" height="16.3"/></clipPath>
<rect x="253.1" y="1471.9" width="49.1" height="16.3" fill="#fff"/>
<path d="M246.7 1488.5l15.2 -16.9M260.2 1488.5l15.2 -16.9M273.7 1488.5l15.2 -16.9M287.3 1488.5l15.2 -16.9M300.9 1488.5l15.2 -16.9" stroke="#3c3c3c" stroke-width="1.05" fill="none" clip-path="url(#lc)"/>
<rect x="253.1" y="1471.9" width="49.1" height="16.3" fill="none" stroke="#2a2a2a" stroke-width="1.8"/>
<rect x="531.4" y="1471.9" width="49.2" height="16.3" fill="#fff" stroke="#2a2a2a" stroke-width="1.8"/>
<path d="M542.7 1479.9h1.4M552.2 1481.6h1.4M562.7 1482.1h1.4M572.2 1481.1h1.4M578.7 1479.9h1.4M534.3 1484.4h1.4M542.7 1486.1h1.4M554.3 1474.3h1.4M561.5 1474.5h1.4M568.7 1474.3h1.4M577.0 1486.9h1.4" stroke="#8a8a8a" stroke-width="1.4" fill="none"/>
<rect x="726.4" y="1471.9" width="49.5" height="16.3" fill="#4b4b4b" stroke="#2b2b2b" stroke-width="1.8"/>
<text x="153.6" y="1488.2" font-size="22.0">Garnica</text>
<text x="315.0" y="1488.2" font-size="22.0">Garnica/Oro Azteca</text>
<text x="593.2" y="1488.2" font-size="22.0">Oro Azteca</text>
<text x="788.4" y="1488.2" font-size="22.0">Oro Azteca/Garnica</text>
</svg></body></html>
